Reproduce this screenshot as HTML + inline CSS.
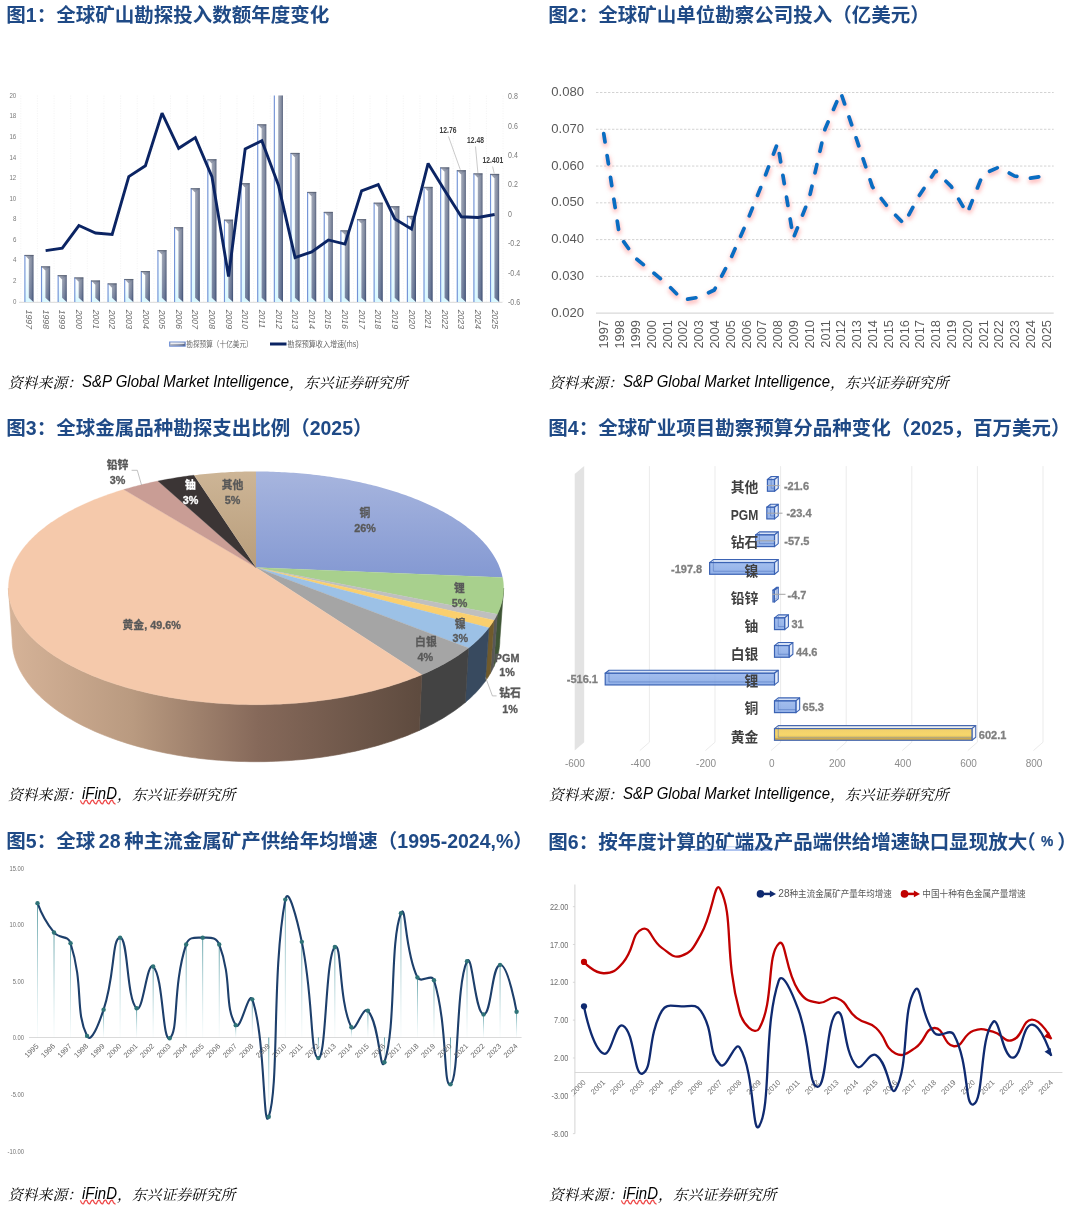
<!DOCTYPE html>
<html lang="zh-CN"><head><meta charset="utf-8"><title>charts</title>
<style>
html,body{margin:0;padding:0;background:#fff;}
body{width:1080px;height:1214px;position:relative;overflow:hidden;}
.t{position:absolute;white-space:nowrap;font-family:'Liberation Sans','Noto Sans CJK SC',sans-serif;font-weight:bold;font-size:19.5px;line-height:29px;color:#1F4A86;}
.s{position:absolute;white-space:nowrap;line-height:20px;font-size:14px;color:#000;}
.s .k{font-family:'Liberation Serif','Noto Serif CJK SC',serif;font-style:italic;font-weight:400;font-size:14.8px;}
.s .l{font-family:'Liberation Sans',sans-serif;font-style:italic;font-size:15px;display:inline-block;transform:translateY(-0.5px) scaleY(1.065);transform-origin:50% 80%;}
svg text{font-family:'Liberation Sans','Noto Sans CJK SC',sans-serif;}
</style></head><body>
<svg width="1080" height="1214" viewBox="0 0 1080 1214" style="position:absolute;left:0;top:0"><defs><linearGradient id="c1w" x1="0" y1="0" x2="0" y2="1"><stop offset="0" stop-color="#ffffff"/><stop offset="0.5" stop-color="#f2fdff"/><stop offset="1" stop-color="#d9f8ff"/></linearGradient><linearGradient id="c1g" x1="0" y1="0" x2="1" y2="0"><stop offset="0" stop-color="#b3b6bf"/><stop offset="0.55" stop-color="#8f96a8"/><stop offset="0.8" stop-color="#727c93"/><stop offset="1" stop-color="#3e4a68"/></linearGradient><linearGradient id="c1v" x1="0" y1="0" x2="0" y2="1"><stop offset="0" stop-color="#ffffff" stop-opacity="0.15"/><stop offset="1" stop-color="#2a4a8a" stop-opacity="0.25"/></linearGradient><filter id="c2glow" x="-5%" y="-5%" width="110%" height="115%"><feGaussianBlur stdDeviation="2.1"/></filter><linearGradient id="c3cu" gradientUnits="userSpaceOnUse" x1="0" y1="472" x2="0" y2="580"><stop offset="0" stop-color="#a7b5de"/><stop offset="1" stop-color="#8398d2"/></linearGradient><linearGradient id="c3ot" gradientUnits="userSpaceOnUse" x1="0" y1="472" x2="0" y2="568"><stop offset="0" stop-color="#cdb596"/><stop offset="1" stop-color="#b89d7b"/></linearGradient><linearGradient id="c3au" gradientUnits="userSpaceOnUse" x1="8" y1="0" x2="424" y2="0"><stop offset="0" stop-color="#d6b398"/><stop offset="0.3" stop-color="#b99a80"/><stop offset="0.6" stop-color="#86695a"/><stop offset="1" stop-color="#5d4a3e"/></linearGradient><linearGradient id="c4b" x1="0" y1="0" x2="0" y2="1"><stop offset="0" stop-color="#8fb0ea"/><stop offset="1" stop-color="#7a9fe2"/></linearGradient><linearGradient id="c4g" x1="0" y1="0" x2="0" y2="1"><stop offset="0" stop-color="#f1cf6b"/><stop offset="0.5" stop-color="#f6d66b"/><stop offset="0.78" stop-color="#ecc95e"/><stop offset="0.82" stop-color="#c9a74f"/><stop offset="1" stop-color="#d2ae52"/></linearGradient><linearGradient id="c5d" x1="0" y1="0" x2="0" y2="1"><stop offset="0" stop-color="#3d8a92" stop-opacity="0.9"/><stop offset="1" stop-color="#9ccfd4" stop-opacity="0.05"/></linearGradient></defs><line x1="20.8" y1="95.6" x2="20.8" y2="302" stroke="#f0f0f0" stroke-width="0.8" stroke-dasharray="1 1.5"/><line x1="37.43" y1="95.6" x2="37.43" y2="302" stroke="#f0f0f0" stroke-width="0.8" stroke-dasharray="1 1.5"/><line x1="54.06" y1="95.6" x2="54.06" y2="302" stroke="#f0f0f0" stroke-width="0.8" stroke-dasharray="1 1.5"/><line x1="70.69" y1="95.6" x2="70.69" y2="302" stroke="#f0f0f0" stroke-width="0.8" stroke-dasharray="1 1.5"/><line x1="87.32" y1="95.6" x2="87.32" y2="302" stroke="#f0f0f0" stroke-width="0.8" stroke-dasharray="1 1.5"/><line x1="103.95" y1="95.6" x2="103.95" y2="302" stroke="#f0f0f0" stroke-width="0.8" stroke-dasharray="1 1.5"/><line x1="120.58" y1="95.6" x2="120.58" y2="302" stroke="#f0f0f0" stroke-width="0.8" stroke-dasharray="1 1.5"/><line x1="137.21" y1="95.6" x2="137.21" y2="302" stroke="#f0f0f0" stroke-width="0.8" stroke-dasharray="1 1.5"/><line x1="153.84" y1="95.6" x2="153.84" y2="302" stroke="#f0f0f0" stroke-width="0.8" stroke-dasharray="1 1.5"/><line x1="170.47" y1="95.6" x2="170.47" y2="302" stroke="#f0f0f0" stroke-width="0.8" stroke-dasharray="1 1.5"/><line x1="187.1" y1="95.6" x2="187.1" y2="302" stroke="#f0f0f0" stroke-width="0.8" stroke-dasharray="1 1.5"/><line x1="203.73" y1="95.6" x2="203.73" y2="302" stroke="#f0f0f0" stroke-width="0.8" stroke-dasharray="1 1.5"/><line x1="220.36" y1="95.6" x2="220.36" y2="302" stroke="#f0f0f0" stroke-width="0.8" stroke-dasharray="1 1.5"/><line x1="236.99" y1="95.6" x2="236.99" y2="302" stroke="#f0f0f0" stroke-width="0.8" stroke-dasharray="1 1.5"/><line x1="253.62" y1="95.6" x2="253.62" y2="302" stroke="#f0f0f0" stroke-width="0.8" stroke-dasharray="1 1.5"/><line x1="270.25" y1="95.6" x2="270.25" y2="302" stroke="#f0f0f0" stroke-width="0.8" stroke-dasharray="1 1.5"/><line x1="286.88" y1="95.6" x2="286.88" y2="302" stroke="#f0f0f0" stroke-width="0.8" stroke-dasharray="1 1.5"/><line x1="303.51" y1="95.6" x2="303.51" y2="302" stroke="#f0f0f0" stroke-width="0.8" stroke-dasharray="1 1.5"/><line x1="320.14" y1="95.6" x2="320.14" y2="302" stroke="#f0f0f0" stroke-width="0.8" stroke-dasharray="1 1.5"/><line x1="336.77" y1="95.6" x2="336.77" y2="302" stroke="#f0f0f0" stroke-width="0.8" stroke-dasharray="1 1.5"/><line x1="353.4" y1="95.6" x2="353.4" y2="302" stroke="#f0f0f0" stroke-width="0.8" stroke-dasharray="1 1.5"/><line x1="370.03" y1="95.6" x2="370.03" y2="302" stroke="#f0f0f0" stroke-width="0.8" stroke-dasharray="1 1.5"/><line x1="386.66" y1="95.6" x2="386.66" y2="302" stroke="#f0f0f0" stroke-width="0.8" stroke-dasharray="1 1.5"/><line x1="403.29" y1="95.6" x2="403.29" y2="302" stroke="#f0f0f0" stroke-width="0.8" stroke-dasharray="1 1.5"/><line x1="419.92" y1="95.6" x2="419.92" y2="302" stroke="#f0f0f0" stroke-width="0.8" stroke-dasharray="1 1.5"/><line x1="436.55" y1="95.6" x2="436.55" y2="302" stroke="#f0f0f0" stroke-width="0.8" stroke-dasharray="1 1.5"/><line x1="453.18" y1="95.6" x2="453.18" y2="302" stroke="#f0f0f0" stroke-width="0.8" stroke-dasharray="1 1.5"/><line x1="469.81" y1="95.6" x2="469.81" y2="302" stroke="#f0f0f0" stroke-width="0.8" stroke-dasharray="1 1.5"/><line x1="486.44" y1="95.6" x2="486.44" y2="302" stroke="#f0f0f0" stroke-width="0.8" stroke-dasharray="1 1.5"/><line x1="503.07" y1="95.6" x2="503.07" y2="302" stroke="#f0f0f0" stroke-width="0.8" stroke-dasharray="1 1.5"/><line x1="19" y1="302.3" x2="502.5" y2="302.3" stroke="#d9d9d9" stroke-width="1"/><polygon points="24.5,255 28.82,259.2 28.82,297.8 33.5,302 24.5,302" fill="url(#c1w)"/><polygon points="24.5,255 33.5,255 33.5,302 28.82,297.8 28.82,259.2" fill="url(#c1g)"/><polygon points="28.82,259.2 33.5,255 33.5,302 28.82,297.8" fill="url(#c1v)"/><line x1="24.9" y1="255" x2="24.9" y2="302" stroke="#7393d6" stroke-width="1.15"/><line x1="24.5" y1="255.4" x2="33.5" y2="255.4" stroke="#5a6274" stroke-width="0.9"/><polygon points="41.13,266.41 45.45,270.61 45.45,297.8 50.13,302 41.13,302" fill="url(#c1w)"/><polygon points="41.13,266.41 50.13,266.41 50.13,302 45.45,297.8 45.45,270.61" fill="url(#c1g)"/><polygon points="45.45,270.61 50.13,266.41 50.13,302 45.45,297.8" fill="url(#c1v)"/><line x1="41.53" y1="266.41" x2="41.53" y2="302" stroke="#7393d6" stroke-width="1.15"/><line x1="41.13" y1="266.81" x2="50.13" y2="266.81" stroke="#5a6274" stroke-width="0.9"/><polygon points="57.76,275.26 62.08,279.46 62.08,297.8 66.76,302 57.76,302" fill="url(#c1w)"/><polygon points="57.76,275.26 66.76,275.26 66.76,302 62.08,297.8 62.08,279.46" fill="url(#c1g)"/><polygon points="62.08,279.46 66.76,275.26 66.76,302 62.08,297.8" fill="url(#c1v)"/><line x1="58.16" y1="275.26" x2="58.16" y2="302" stroke="#7393d6" stroke-width="1.15"/><line x1="57.76" y1="275.66" x2="66.76" y2="275.66" stroke="#5a6274" stroke-width="0.9"/><polygon points="74.39,277.52 78.71,281.72 78.71,297.8 83.39,302 74.39,302" fill="url(#c1w)"/><polygon points="74.39,277.52 83.39,277.52 83.39,302 78.71,297.8 78.71,281.72" fill="url(#c1g)"/><polygon points="78.71,281.72 83.39,277.52 83.39,302 78.71,297.8" fill="url(#c1v)"/><line x1="74.79" y1="277.52" x2="74.79" y2="302" stroke="#7393d6" stroke-width="1.15"/><line x1="74.39" y1="277.92" x2="83.39" y2="277.92" stroke="#5a6274" stroke-width="0.9"/><polygon points="91.02,280.61 95.34,284.81 95.34,297.8 100.02,302 91.02,302" fill="url(#c1w)"/><polygon points="91.02,280.61 100.02,280.61 100.02,302 95.34,297.8 95.34,284.81" fill="url(#c1g)"/><polygon points="95.34,284.81 100.02,280.61 100.02,302 95.34,297.8" fill="url(#c1v)"/><line x1="91.42" y1="280.61" x2="91.42" y2="302" stroke="#7393d6" stroke-width="1.15"/><line x1="91.02" y1="281.01" x2="100.02" y2="281.01" stroke="#5a6274" stroke-width="0.9"/><polygon points="107.65,283.49 111.97,287.69 111.97,297.8 116.65,302 107.65,302" fill="url(#c1w)"/><polygon points="107.65,283.49 116.65,283.49 116.65,302 111.97,297.8 111.97,287.69" fill="url(#c1g)"/><polygon points="111.97,287.69 116.65,283.49 116.65,302 111.97,297.8" fill="url(#c1v)"/><line x1="108.05" y1="283.49" x2="108.05" y2="302" stroke="#7393d6" stroke-width="1.15"/><line x1="107.65" y1="283.89" x2="116.65" y2="283.89" stroke="#5a6274" stroke-width="0.9"/><polygon points="124.28,279.06 128.6,283.26 128.6,297.8 133.28,302 124.28,302" fill="url(#c1w)"/><polygon points="124.28,279.06 133.28,279.06 133.28,302 128.6,297.8 128.6,283.26" fill="url(#c1g)"/><polygon points="128.6,283.26 133.28,279.06 133.28,302 128.6,297.8" fill="url(#c1v)"/><line x1="124.68" y1="279.06" x2="124.68" y2="302" stroke="#7393d6" stroke-width="1.15"/><line x1="124.28" y1="279.46" x2="133.28" y2="279.46" stroke="#5a6274" stroke-width="0.9"/><polygon points="140.91,271.14 145.23,275.34 145.23,297.8 149.91,302 140.91,302" fill="url(#c1w)"/><polygon points="140.91,271.14 149.91,271.14 149.91,302 145.23,297.8 145.23,275.34" fill="url(#c1g)"/><polygon points="145.23,275.34 149.91,271.14 149.91,302 145.23,297.8" fill="url(#c1v)"/><line x1="141.31" y1="271.14" x2="141.31" y2="302" stroke="#7393d6" stroke-width="1.15"/><line x1="140.91" y1="271.54" x2="149.91" y2="271.54" stroke="#5a6274" stroke-width="0.9"/><polygon points="157.54,250.27 161.86,254.47 161.86,297.8 166.54,302 157.54,302" fill="url(#c1w)"/><polygon points="157.54,250.27 166.54,250.27 166.54,302 161.86,297.8 161.86,254.47" fill="url(#c1g)"/><polygon points="161.86,254.47 166.54,250.27 166.54,302 161.86,297.8" fill="url(#c1v)"/><line x1="157.94" y1="250.27" x2="157.94" y2="302" stroke="#7393d6" stroke-width="1.15"/><line x1="157.54" y1="250.67" x2="166.54" y2="250.67" stroke="#5a6274" stroke-width="0.9"/><polygon points="174.17,227.33 178.49,231.53 178.49,297.8 183.17,302 174.17,302" fill="url(#c1w)"/><polygon points="174.17,227.33 183.17,227.33 183.17,302 178.49,297.8 178.49,231.53" fill="url(#c1g)"/><polygon points="178.49,231.53 183.17,227.33 183.17,302 178.49,297.8" fill="url(#c1v)"/><line x1="174.57" y1="227.33" x2="174.57" y2="302" stroke="#7393d6" stroke-width="1.15"/><line x1="174.17" y1="227.73" x2="183.17" y2="227.73" stroke="#5a6274" stroke-width="0.9"/><polygon points="190.8,188.35 195.12,192.55 195.12,297.8 199.8,302 190.8,302" fill="url(#c1w)"/><polygon points="190.8,188.35 199.8,188.35 199.8,302 195.12,297.8 195.12,192.55" fill="url(#c1g)"/><polygon points="195.12,192.55 199.8,188.35 199.8,302 195.12,297.8" fill="url(#c1v)"/><line x1="191.2" y1="188.35" x2="191.2" y2="302" stroke="#7393d6" stroke-width="1.15"/><line x1="190.8" y1="188.75" x2="199.8" y2="188.75" stroke="#5a6274" stroke-width="0.9"/><polygon points="207.43,159.35 211.75,163.55 211.75,297.8 216.43,302 207.43,302" fill="url(#c1w)"/><polygon points="207.43,159.35 216.43,159.35 216.43,302 211.75,297.8 211.75,163.55" fill="url(#c1g)"/><polygon points="211.75,163.55 216.43,159.35 216.43,302 211.75,297.8" fill="url(#c1v)"/><line x1="207.83" y1="159.35" x2="207.83" y2="302" stroke="#7393d6" stroke-width="1.15"/><line x1="207.43" y1="159.75" x2="216.43" y2="159.75" stroke="#5a6274" stroke-width="0.9"/><polygon points="224.06,219.72 228.38,223.92 228.38,297.8 233.06,302 224.06,302" fill="url(#c1w)"/><polygon points="224.06,219.72 233.06,219.72 233.06,302 228.38,297.8 228.38,223.92" fill="url(#c1g)"/><polygon points="228.38,223.92 233.06,219.72 233.06,302 228.38,297.8" fill="url(#c1v)"/><line x1="224.46" y1="219.72" x2="224.46" y2="302" stroke="#7393d6" stroke-width="1.15"/><line x1="224.06" y1="220.12" x2="233.06" y2="220.12" stroke="#5a6274" stroke-width="0.9"/><polygon points="240.69,183.31 245.01,187.51 245.01,297.8 249.69,302 240.69,302" fill="url(#c1w)"/><polygon points="240.69,183.31 249.69,183.31 249.69,302 245.01,297.8 245.01,187.51" fill="url(#c1g)"/><polygon points="245.01,187.51 249.69,183.31 249.69,302 245.01,297.8" fill="url(#c1v)"/><line x1="241.09" y1="183.31" x2="241.09" y2="302" stroke="#7393d6" stroke-width="1.15"/><line x1="240.69" y1="183.71" x2="249.69" y2="183.71" stroke="#5a6274" stroke-width="0.9"/><polygon points="257.32,124.38 261.64,128.58 261.64,297.8 266.32,302 257.32,302" fill="url(#c1w)"/><polygon points="257.32,124.38 266.32,124.38 266.32,302 261.64,297.8 261.64,128.58" fill="url(#c1g)"/><polygon points="261.64,128.58 266.32,124.38 266.32,302 261.64,297.8" fill="url(#c1v)"/><line x1="257.72" y1="124.38" x2="257.72" y2="302" stroke="#7393d6" stroke-width="1.15"/><line x1="257.32" y1="124.78" x2="266.32" y2="124.78" stroke="#5a6274" stroke-width="0.9"/><polygon points="273.95,95.6 278.27,95.6 278.27,297.8 282.95,302 273.95,302" fill="url(#c1w)"/><polygon points="273.95,95.6 282.95,95.6 282.95,302 278.27,297.8 278.27,95.6" fill="url(#c1g)"/><polygon points="278.27,95.6 282.95,95.6 282.95,302 278.27,297.8" fill="url(#c1v)"/><line x1="274.35" y1="95.6" x2="274.35" y2="302" stroke="#7393d6" stroke-width="1.15"/><polygon points="290.58,152.97 294.9,157.17 294.9,297.8 299.58,302 290.58,302" fill="url(#c1w)"/><polygon points="290.58,152.97 299.58,152.97 299.58,302 294.9,297.8 294.9,157.17" fill="url(#c1g)"/><polygon points="294.9,157.17 299.58,152.97 299.58,302 294.9,297.8" fill="url(#c1v)"/><line x1="290.98" y1="152.97" x2="290.98" y2="302" stroke="#7393d6" stroke-width="1.15"/><line x1="290.58" y1="153.37" x2="299.58" y2="153.37" stroke="#5a6274" stroke-width="0.9"/><polygon points="307.21,191.95 311.53,196.15 311.53,297.8 316.21,302 307.21,302" fill="url(#c1w)"/><polygon points="307.21,191.95 316.21,191.95 316.21,302 311.53,297.8 311.53,196.15" fill="url(#c1g)"/><polygon points="311.53,196.15 316.21,191.95 316.21,302 311.53,297.8" fill="url(#c1v)"/><line x1="307.61" y1="191.95" x2="307.61" y2="302" stroke="#7393d6" stroke-width="1.15"/><line x1="307.21" y1="192.35" x2="316.21" y2="192.35" stroke="#5a6274" stroke-width="0.9"/><polygon points="323.84,211.9 328.16,216.1 328.16,297.8 332.84,302 323.84,302" fill="url(#c1w)"/><polygon points="323.84,211.9 332.84,211.9 332.84,302 328.16,297.8 328.16,216.1" fill="url(#c1g)"/><polygon points="328.16,216.1 332.84,211.9 332.84,302 328.16,297.8" fill="url(#c1v)"/><line x1="324.24" y1="211.9" x2="324.24" y2="302" stroke="#7393d6" stroke-width="1.15"/><line x1="323.84" y1="212.3" x2="332.84" y2="212.3" stroke="#5a6274" stroke-width="0.9"/><polygon points="340.47,230.42 344.79,234.62 344.79,297.8 349.47,302 340.47,302" fill="url(#c1w)"/><polygon points="340.47,230.42 349.47,230.42 349.47,302 344.79,297.8 344.79,234.62" fill="url(#c1g)"/><polygon points="344.79,234.62 349.47,230.42 349.47,302 344.79,297.8" fill="url(#c1v)"/><line x1="340.87" y1="230.42" x2="340.87" y2="302" stroke="#7393d6" stroke-width="1.15"/><line x1="340.47" y1="230.82" x2="349.47" y2="230.82" stroke="#5a6274" stroke-width="0.9"/><polygon points="357.1,219.21 361.42,223.41 361.42,297.8 366.1,302 357.1,302" fill="url(#c1w)"/><polygon points="357.1,219.21 366.1,219.21 366.1,302 361.42,297.8 361.42,223.41" fill="url(#c1g)"/><polygon points="361.42,223.41 366.1,219.21 366.1,302 361.42,297.8" fill="url(#c1v)"/><line x1="357.5" y1="219.21" x2="357.5" y2="302" stroke="#7393d6" stroke-width="1.15"/><line x1="357.1" y1="219.61" x2="366.1" y2="219.61" stroke="#5a6274" stroke-width="0.9"/><polygon points="373.73,202.75 378.05,206.95 378.05,297.8 382.73,302 373.73,302" fill="url(#c1w)"/><polygon points="373.73,202.75 382.73,202.75 382.73,302 378.05,297.8 378.05,206.95" fill="url(#c1g)"/><polygon points="378.05,206.95 382.73,202.75 382.73,302 378.05,297.8" fill="url(#c1v)"/><line x1="374.13" y1="202.75" x2="374.13" y2="302" stroke="#7393d6" stroke-width="1.15"/><line x1="373.73" y1="203.15" x2="382.73" y2="203.15" stroke="#5a6274" stroke-width="0.9"/><polygon points="390.36,206.35 394.68,210.55 394.68,297.8 399.36,302 390.36,302" fill="url(#c1w)"/><polygon points="390.36,206.35 399.36,206.35 399.36,302 394.68,297.8 394.68,210.55" fill="url(#c1g)"/><polygon points="394.68,210.55 399.36,206.35 399.36,302 394.68,297.8" fill="url(#c1v)"/><line x1="390.76" y1="206.35" x2="390.76" y2="302" stroke="#7393d6" stroke-width="1.15"/><line x1="390.36" y1="206.75" x2="399.36" y2="206.75" stroke="#5a6274" stroke-width="0.9"/><polygon points="406.99,215.91 411.31,220.11 411.31,297.8 415.99,302 406.99,302" fill="url(#c1w)"/><polygon points="406.99,215.91 415.99,215.91 415.99,302 411.31,297.8 411.31,220.11" fill="url(#c1g)"/><polygon points="411.31,220.11 415.99,215.91 415.99,302 411.31,297.8" fill="url(#c1v)"/><line x1="407.39" y1="215.91" x2="407.39" y2="302" stroke="#7393d6" stroke-width="1.15"/><line x1="406.99" y1="216.31" x2="415.99" y2="216.31" stroke="#5a6274" stroke-width="0.9"/><polygon points="423.62,186.91 427.94,191.11 427.94,297.8 432.62,302 423.62,302" fill="url(#c1w)"/><polygon points="423.62,186.91 432.62,186.91 432.62,302 427.94,297.8 427.94,191.11" fill="url(#c1g)"/><polygon points="427.94,191.11 432.62,186.91 432.62,302 427.94,297.8" fill="url(#c1v)"/><line x1="424.02" y1="186.91" x2="424.02" y2="302" stroke="#7393d6" stroke-width="1.15"/><line x1="423.62" y1="187.31" x2="432.62" y2="187.31" stroke="#5a6274" stroke-width="0.9"/><polygon points="440.25,167.47 444.57,171.67 444.57,297.8 449.25,302 440.25,302" fill="url(#c1w)"/><polygon points="440.25,167.47 449.25,167.47 449.25,302 444.57,297.8 444.57,171.67" fill="url(#c1g)"/><polygon points="444.57,171.67 449.25,167.47 449.25,302 444.57,297.8" fill="url(#c1v)"/><line x1="440.65" y1="167.47" x2="440.65" y2="302" stroke="#7393d6" stroke-width="1.15"/><line x1="440.25" y1="167.87" x2="449.25" y2="167.87" stroke="#5a6274" stroke-width="0.9"/><polygon points="456.88,170.35 461.2,174.55 461.2,297.8 465.88,302 456.88,302" fill="url(#c1w)"/><polygon points="456.88,170.35 465.88,170.35 465.88,302 461.2,297.8 461.2,174.55" fill="url(#c1g)"/><polygon points="461.2,174.55 465.88,170.35 465.88,302 461.2,297.8" fill="url(#c1v)"/><line x1="457.28" y1="170.35" x2="457.28" y2="302" stroke="#7393d6" stroke-width="1.15"/><line x1="456.88" y1="170.75" x2="465.88" y2="170.75" stroke="#5a6274" stroke-width="0.9"/><polygon points="473.51,173.44 477.83,177.64 477.83,297.8 482.51,302 473.51,302" fill="url(#c1w)"/><polygon points="473.51,173.44 482.51,173.44 482.51,302 477.83,297.8 477.83,177.64" fill="url(#c1g)"/><polygon points="477.83,177.64 482.51,173.44 482.51,302 477.83,297.8" fill="url(#c1v)"/><line x1="473.91" y1="173.44" x2="473.91" y2="302" stroke="#7393d6" stroke-width="1.15"/><line x1="473.51" y1="173.84" x2="482.51" y2="173.84" stroke="#5a6274" stroke-width="0.9"/><polygon points="490.14,173.95 494.46,178.15 494.46,297.8 499.14,302 490.14,302" fill="url(#c1w)"/><polygon points="490.14,173.95 499.14,173.95 499.14,302 494.46,297.8 494.46,178.15" fill="url(#c1g)"/><polygon points="494.46,178.15 499.14,173.95 499.14,302 494.46,297.8" fill="url(#c1v)"/><line x1="490.54" y1="173.95" x2="490.54" y2="302" stroke="#7393d6" stroke-width="1.15"/><line x1="490.14" y1="174.35" x2="499.14" y2="174.35" stroke="#5a6274" stroke-width="0.9"/><polyline points="45.63,250.67 62.26,248.17 78.89,225.55 95.52,233.04 112.15,234.37 128.78,176.63 145.41,165.76 162.04,113.17 178.67,148.28 195.3,137.56 211.93,176.63 228.56,276.53 245.19,148.87 261.82,140.64 278.45,185.15 295.08,257.58 311.71,251.85 328.34,239.95 344.97,244.06 361.6,190.88 378.23,184.57 394.86,218.94 411.49,229.08 428.12,163.41 444.75,190.59 461.38,216.74 478.01,217.47 494.64,214.53" fill="none" stroke="#0b2463" stroke-width="2.9" stroke-linejoin="miter" stroke-miterlimit="1.9"/><text transform="translate(16.3,303.6) scale(0.76,1)" font-size="8.1" fill="#7a7a7a" text-anchor="end" font-family="Liberation Sans">0</text><text transform="translate(16.3,283.03) scale(0.76,1)" font-size="8.1" fill="#7a7a7a" text-anchor="end" font-family="Liberation Sans">2</text><text transform="translate(16.3,262.46) scale(0.76,1)" font-size="8.1" fill="#7a7a7a" text-anchor="end" font-family="Liberation Sans">4</text><text transform="translate(16.3,241.89) scale(0.76,1)" font-size="8.1" fill="#7a7a7a" text-anchor="end" font-family="Liberation Sans">6</text><text transform="translate(16.3,221.32) scale(0.76,1)" font-size="8.1" fill="#7a7a7a" text-anchor="end" font-family="Liberation Sans">8</text><text transform="translate(16.3,200.75) scale(0.76,1)" font-size="8.1" fill="#7a7a7a" text-anchor="end" font-family="Liberation Sans">10</text><text transform="translate(16.3,180.18) scale(0.76,1)" font-size="8.1" fill="#7a7a7a" text-anchor="end" font-family="Liberation Sans">12</text><text transform="translate(16.3,159.61) scale(0.76,1)" font-size="8.1" fill="#7a7a7a" text-anchor="end" font-family="Liberation Sans">14</text><text transform="translate(16.3,139.04) scale(0.76,1)" font-size="8.1" fill="#7a7a7a" text-anchor="end" font-family="Liberation Sans">16</text><text transform="translate(16.3,118.47) scale(0.76,1)" font-size="8.1" fill="#7a7a7a" text-anchor="end" font-family="Liberation Sans">18</text><text transform="translate(16.3,97.9) scale(0.76,1)" font-size="8.1" fill="#7a7a7a" text-anchor="end" font-family="Liberation Sans">20</text><text transform="translate(508,99.28) scale(0.84,1)" font-size="8.4" fill="#7a7a7a" font-family="Liberation Sans">0.8</text><text transform="translate(508,128.66) scale(0.84,1)" font-size="8.4" fill="#7a7a7a" font-family="Liberation Sans">0.6</text><text transform="translate(508,158.04) scale(0.84,1)" font-size="8.4" fill="#7a7a7a" font-family="Liberation Sans">0.4</text><text transform="translate(508,187.42) scale(0.84,1)" font-size="8.4" fill="#7a7a7a" font-family="Liberation Sans">0.2</text><text transform="translate(508,216.8) scale(0.84,1)" font-size="8.4" fill="#7a7a7a" font-family="Liberation Sans">0</text><text transform="translate(508,246.18) scale(0.84,1)" font-size="8.4" fill="#7a7a7a" font-family="Liberation Sans">-0.2</text><text transform="translate(508,275.56) scale(0.84,1)" font-size="8.4" fill="#7a7a7a" font-family="Liberation Sans">-0.4</text><text transform="translate(508,304.94) scale(0.84,1)" font-size="8.4" fill="#7a7a7a" font-family="Liberation Sans">-0.6</text><text transform="translate(26.1,309.3) rotate(90) skewX(-12)" font-size="8.6" fill="#6a6a6a" font-family="Liberation Sans">1997</text><text transform="translate(42.73,309.3) rotate(90) skewX(-12)" font-size="8.6" fill="#6a6a6a" font-family="Liberation Sans">1998</text><text transform="translate(59.36,309.3) rotate(90) skewX(-12)" font-size="8.6" fill="#6a6a6a" font-family="Liberation Sans">1999</text><text transform="translate(75.99,309.3) rotate(90) skewX(-12)" font-size="8.6" fill="#6a6a6a" font-family="Liberation Sans">2000</text><text transform="translate(92.62,309.3) rotate(90) skewX(-12)" font-size="8.6" fill="#6a6a6a" font-family="Liberation Sans">2001</text><text transform="translate(109.25,309.3) rotate(90) skewX(-12)" font-size="8.6" fill="#6a6a6a" font-family="Liberation Sans">2002</text><text transform="translate(125.88,309.3) rotate(90) skewX(-12)" font-size="8.6" fill="#6a6a6a" font-family="Liberation Sans">2003</text><text transform="translate(142.51,309.3) rotate(90) skewX(-12)" font-size="8.6" fill="#6a6a6a" font-family="Liberation Sans">2004</text><text transform="translate(159.14,309.3) rotate(90) skewX(-12)" font-size="8.6" fill="#6a6a6a" font-family="Liberation Sans">2005</text><text transform="translate(175.77,309.3) rotate(90) skewX(-12)" font-size="8.6" fill="#6a6a6a" font-family="Liberation Sans">2006</text><text transform="translate(192.4,309.3) rotate(90) skewX(-12)" font-size="8.6" fill="#6a6a6a" font-family="Liberation Sans">2007</text><text transform="translate(209.03,309.3) rotate(90) skewX(-12)" font-size="8.6" fill="#6a6a6a" font-family="Liberation Sans">2008</text><text transform="translate(225.66,309.3) rotate(90) skewX(-12)" font-size="8.6" fill="#6a6a6a" font-family="Liberation Sans">2009</text><text transform="translate(242.29,309.3) rotate(90) skewX(-12)" font-size="8.6" fill="#6a6a6a" font-family="Liberation Sans">2010</text><text transform="translate(258.92,309.3) rotate(90) skewX(-12)" font-size="8.6" fill="#6a6a6a" font-family="Liberation Sans">2011</text><text transform="translate(275.55,309.3) rotate(90) skewX(-12)" font-size="8.6" fill="#6a6a6a" font-family="Liberation Sans">2012</text><text transform="translate(292.18,309.3) rotate(90) skewX(-12)" font-size="8.6" fill="#6a6a6a" font-family="Liberation Sans">2013</text><text transform="translate(308.81,309.3) rotate(90) skewX(-12)" font-size="8.6" fill="#6a6a6a" font-family="Liberation Sans">2014</text><text transform="translate(325.44,309.3) rotate(90) skewX(-12)" font-size="8.6" fill="#6a6a6a" font-family="Liberation Sans">2015</text><text transform="translate(342.07,309.3) rotate(90) skewX(-12)" font-size="8.6" fill="#6a6a6a" font-family="Liberation Sans">2016</text><text transform="translate(358.7,309.3) rotate(90) skewX(-12)" font-size="8.6" fill="#6a6a6a" font-family="Liberation Sans">2017</text><text transform="translate(375.33,309.3) rotate(90) skewX(-12)" font-size="8.6" fill="#6a6a6a" font-family="Liberation Sans">2018</text><text transform="translate(391.96,309.3) rotate(90) skewX(-12)" font-size="8.6" fill="#6a6a6a" font-family="Liberation Sans">2019</text><text transform="translate(408.59,309.3) rotate(90) skewX(-12)" font-size="8.6" fill="#6a6a6a" font-family="Liberation Sans">2020</text><text transform="translate(425.22,309.3) rotate(90) skewX(-12)" font-size="8.6" fill="#6a6a6a" font-family="Liberation Sans">2021</text><text transform="translate(441.85,309.3) rotate(90) skewX(-12)" font-size="8.6" fill="#6a6a6a" font-family="Liberation Sans">2022</text><text transform="translate(458.48,309.3) rotate(90) skewX(-12)" font-size="8.6" fill="#6a6a6a" font-family="Liberation Sans">2023</text><text transform="translate(475.11,309.3) rotate(90) skewX(-12)" font-size="8.6" fill="#6a6a6a" font-family="Liberation Sans">2024</text><text transform="translate(491.74,309.3) rotate(90) skewX(-12)" font-size="8.6" fill="#6a6a6a" font-family="Liberation Sans">2025</text><line x1="448.5" y1="136.5" x2="460.3" y2="169.7" stroke="#a6a6a6" stroke-width="0.6"/><text transform="translate(448,133.4) scale(0.75,1)" font-size="9" font-weight="bold" fill="#404040" text-anchor="middle" font-family="Liberation Sans">12.76</text><line x1="475.5" y1="146.5" x2="477.9" y2="173" stroke="#a6a6a6" stroke-width="0.6"/><text transform="translate(475.5,142.70000000000002) scale(0.75,1)" font-size="9" font-weight="bold" fill="#404040" text-anchor="middle" font-family="Liberation Sans">12.48</text><line x1="492.6" y1="166.5" x2="494.2" y2="173.5" stroke="#a6a6a6" stroke-width="0.6"/><text transform="translate(492.9,163.4) scale(0.75,1)" font-size="9" font-weight="bold" fill="#404040" text-anchor="middle" font-family="Liberation Sans">12.401</text><rect x="169.6" y="342" width="15.6" height="4.2" fill="url(#c1g)" stroke="#6f8fd6" stroke-width="1"/><rect x="170.5" y="342.5" width="14" height="1.6" fill="#fff" opacity="0.8"/><text x="186.3" y="347.3" font-size="8.2" fill="#6a6a6a" textLength="66.4" lengthAdjust="spacingAndGlyphs">勘探预算（十亿美元）</text><line x1="270" y1="344" x2="286.5" y2="344" stroke="#0b2463" stroke-width="3"/><text x="287.6" y="347.3" font-size="8.2" fill="#6a6a6a" textLength="71" lengthAdjust="spacingAndGlyphs">勘探预算收入增速(rhs)</text><line x1="596" y1="92.5" x2="1053.7" y2="92.5" stroke="#d3d3d3" stroke-width="1" stroke-dasharray="2.4 1.6"/><line x1="596" y1="129.28" x2="1053.7" y2="129.28" stroke="#d3d3d3" stroke-width="1" stroke-dasharray="2.4 1.6"/><line x1="596" y1="166.06" x2="1053.7" y2="166.06" stroke="#d3d3d3" stroke-width="1" stroke-dasharray="2.4 1.6"/><line x1="596" y1="202.84" x2="1053.7" y2="202.84" stroke="#d3d3d3" stroke-width="1" stroke-dasharray="2.4 1.6"/><line x1="596" y1="239.62" x2="1053.7" y2="239.62" stroke="#d3d3d3" stroke-width="1" stroke-dasharray="2.4 1.6"/><line x1="596" y1="276.4" x2="1053.7" y2="276.4" stroke="#d3d3d3" stroke-width="1" stroke-dasharray="2.4 1.6"/><line x1="596" y1="313.2" x2="1053.7" y2="313.2" stroke="#d9d9d9" stroke-width="1.3"/><text x="584" y="96" font-size="13.1" fill="#595959" text-anchor="end" font-family="Liberation Sans">0.080</text><text x="584" y="132.78" font-size="13.1" fill="#595959" text-anchor="end" font-family="Liberation Sans">0.070</text><text x="584" y="169.56" font-size="13.1" fill="#595959" text-anchor="end" font-family="Liberation Sans">0.060</text><text x="584" y="206.34" font-size="13.1" fill="#595959" text-anchor="end" font-family="Liberation Sans">0.050</text><text x="584" y="243.12" font-size="13.1" fill="#595959" text-anchor="end" font-family="Liberation Sans">0.040</text><text x="584" y="279.9" font-size="13.1" fill="#595959" text-anchor="end" font-family="Liberation Sans">0.030</text><text x="584" y="316.68" font-size="13.1" fill="#595959" text-anchor="end" font-family="Liberation Sans">0.020</text><text transform="translate(608.35,320.1) rotate(-90)" font-size="12.8" fill="#595959" text-anchor="end" font-family="Liberation Sans">1997</text><text transform="translate(624.15,320.1) rotate(-90)" font-size="12.8" fill="#595959" text-anchor="end" font-family="Liberation Sans">1998</text><text transform="translate(639.95,320.1) rotate(-90)" font-size="12.8" fill="#595959" text-anchor="end" font-family="Liberation Sans">1999</text><text transform="translate(655.75,320.1) rotate(-90)" font-size="12.8" fill="#595959" text-anchor="end" font-family="Liberation Sans">2000</text><text transform="translate(671.55,320.1) rotate(-90)" font-size="12.8" fill="#595959" text-anchor="end" font-family="Liberation Sans">2001</text><text transform="translate(687.35,320.1) rotate(-90)" font-size="12.8" fill="#595959" text-anchor="end" font-family="Liberation Sans">2002</text><text transform="translate(703.15,320.1) rotate(-90)" font-size="12.8" fill="#595959" text-anchor="end" font-family="Liberation Sans">2003</text><text transform="translate(718.95,320.1) rotate(-90)" font-size="12.8" fill="#595959" text-anchor="end" font-family="Liberation Sans">2004</text><text transform="translate(734.75,320.1) rotate(-90)" font-size="12.8" fill="#595959" text-anchor="end" font-family="Liberation Sans">2005</text><text transform="translate(750.55,320.1) rotate(-90)" font-size="12.8" fill="#595959" text-anchor="end" font-family="Liberation Sans">2006</text><text transform="translate(766.35,320.1) rotate(-90)" font-size="12.8" fill="#595959" text-anchor="end" font-family="Liberation Sans">2007</text><text transform="translate(782.15,320.1) rotate(-90)" font-size="12.8" fill="#595959" text-anchor="end" font-family="Liberation Sans">2008</text><text transform="translate(797.95,320.1) rotate(-90)" font-size="12.8" fill="#595959" text-anchor="end" font-family="Liberation Sans">2009</text><text transform="translate(813.75,320.1) rotate(-90)" font-size="12.8" fill="#595959" text-anchor="end" font-family="Liberation Sans">2010</text><text transform="translate(829.55,320.1) rotate(-90)" font-size="12.8" fill="#595959" text-anchor="end" font-family="Liberation Sans">2011</text><text transform="translate(845.35,320.1) rotate(-90)" font-size="12.8" fill="#595959" text-anchor="end" font-family="Liberation Sans">2012</text><text transform="translate(861.15,320.1) rotate(-90)" font-size="12.8" fill="#595959" text-anchor="end" font-family="Liberation Sans">2013</text><text transform="translate(876.95,320.1) rotate(-90)" font-size="12.8" fill="#595959" text-anchor="end" font-family="Liberation Sans">2014</text><text transform="translate(892.75,320.1) rotate(-90)" font-size="12.8" fill="#595959" text-anchor="end" font-family="Liberation Sans">2015</text><text transform="translate(908.55,320.1) rotate(-90)" font-size="12.8" fill="#595959" text-anchor="end" font-family="Liberation Sans">2016</text><text transform="translate(924.35,320.1) rotate(-90)" font-size="12.8" fill="#595959" text-anchor="end" font-family="Liberation Sans">2017</text><text transform="translate(940.15,320.1) rotate(-90)" font-size="12.8" fill="#595959" text-anchor="end" font-family="Liberation Sans">2018</text><text transform="translate(955.95,320.1) rotate(-90)" font-size="12.8" fill="#595959" text-anchor="end" font-family="Liberation Sans">2019</text><text transform="translate(971.75,320.1) rotate(-90)" font-size="12.8" fill="#595959" text-anchor="end" font-family="Liberation Sans">2020</text><text transform="translate(987.55,320.1) rotate(-90)" font-size="12.8" fill="#595959" text-anchor="end" font-family="Liberation Sans">2021</text><text transform="translate(1003.35,320.1) rotate(-90)" font-size="12.8" fill="#595959" text-anchor="end" font-family="Liberation Sans">2022</text><text transform="translate(1019.15,320.1) rotate(-90)" font-size="12.8" fill="#595959" text-anchor="end" font-family="Liberation Sans">2023</text><text transform="translate(1034.95,320.1) rotate(-90)" font-size="12.8" fill="#595959" text-anchor="end" font-family="Liberation Sans">2024</text><text transform="translate(1050.75,320.1) rotate(-90)" font-size="12.8" fill="#595959" text-anchor="end" font-family="Liberation Sans">2025</text><path d="M603.75,133.69 L619.55,235.94 L635.35,258.01 L651.15,270.88 L666.95,284.12 L682.75,299.94 L698.55,297.36 L714.35,290.01 L730.15,259.85 L745.95,224.17 L761.75,184.82 L777.55,143.26 L793.35,238.15 L809.15,198.43 L824.95,129.28 L840.75,92.5 L856.55,139.21 L872.35,186.66 L888.15,207.62 L903.95,223.8 L919.75,194.75 L935.55,170.84 L951.35,186.66 L967.15,213.51 L982.95,174.15 L998.75,167.16 L1014.55,175.99 L1030.35,178.2 L1046.15,175.62" fill="none" stroke="#ff8c8c" stroke-opacity="0.6" stroke-width="5" stroke-dasharray="8.4 13.7" stroke-linecap="round" stroke-linejoin="round" filter="url(#c2glow)" transform="translate(0.3,2.6)"/><path d="M603.75,133.69 L619.55,235.94 L635.35,258.01 L651.15,270.88 L666.95,284.12 L682.75,299.94 L698.55,297.36 L714.35,290.01 L730.15,259.85 L745.95,224.17 L761.75,184.82 L777.55,143.26 L793.35,238.15 L809.15,198.43 L824.95,129.28 L840.75,92.5 L856.55,139.21 L872.35,186.66 L888.15,207.62 L903.95,223.8 L919.75,194.75 L935.55,170.84 L951.35,186.66 L967.15,213.51 L982.95,174.15 L998.75,167.16 L1014.55,175.99 L1030.35,178.2 L1046.15,175.62" fill="none" stroke="#0a6dc2" stroke-width="3.7" stroke-dasharray="8.4 13.7" stroke-linecap="round" stroke-linejoin="round"/><polygon points="503.6,588.15 503.56,590.14 503.45,592.13 503.27,594.13 503.01,596.13 502.68,598.14 502.27,600.15 501.79,602.16 501.23,604.17 500.6,606.19 499.89,608.2 499.1,610.22 498.24,612.23 497.3,614.24 493.68,666.94 494.6,664.82 495.46,662.7 496.23,660.57 496.93,658.45 497.56,656.32 498.1,654.2 498.58,652.07 498.98,649.95 499.3,647.83 499.56,645.71 499.74,643.6 499.84,641.49 499.88,639.39" fill="#3f5535" stroke="#3f5535" stroke-width="0.6" stroke-linejoin="round"/><polygon points="497.3,614.24 496.27,616.25 495.17,618.26 493.99,620.26 490.42,673.28 491.59,671.17 492.67,669.06 493.68,666.94" fill="#585858" stroke="#585858" stroke-width="0.6" stroke-linejoin="round"/><polygon points="493.99,620.26 492.82,622.14 491.57,624.01 490.25,625.87 488.86,627.73 485.37,681.14 486.74,679.18 488.04,677.22 489.26,675.26 490.42,673.28" fill="#6f5a2c" stroke="#6f5a2c" stroke-width="0.6" stroke-linejoin="round"/><polygon points="488.86,627.73 487.38,629.61 485.82,631.49 484.19,633.36 482.48,635.22 480.7,637.08 478.85,638.92 476.93,640.75 474.93,642.57 472.86,644.38 470.71,646.17 468.5,647.95 465.31,702.38 467.49,700.51 469.6,698.63 471.64,696.73 473.61,694.82 475.51,692.9 477.33,690.96 479.08,689.02 480.76,687.06 482.37,685.1 483.91,683.12 485.37,681.14" fill="#384a5f" stroke="#384a5f" stroke-width="0.6" stroke-linejoin="round"/><polygon points="468.5,647.95 466.14,649.77 463.7,651.58 461.19,653.37 458.6,655.14 455.93,656.89 453.19,658.62 450.38,660.33 447.49,662.03 444.53,663.69 441.49,665.34 438.39,666.96 435.21,668.56 431.97,670.14 428.65,671.69 425.27,673.21 421.81,674.7 419.33,730.39 422.73,728.83 426.06,727.24 429.33,725.62 432.52,723.97 435.65,722.3 438.71,720.6 441.7,718.88 444.62,717.13 447.46,715.36 450.23,713.56 452.93,711.75 455.56,709.91 458.11,708.06 460.58,706.18 462.99,704.29 465.31,702.38" fill="#434343" stroke="#434343" stroke-width="0.6" stroke-linejoin="round"/><polygon points="421.81,674.7 418.11,676.25 414.33,677.76 410.47,679.23 406.55,680.68 402.56,682.09 398.51,683.46 394.39,684.8 390.2,686.1 385.95,687.36 381.64,688.58 377.28,689.77 372.85,690.91 368.37,692.01 363.84,693.07 359.26,694.09 354.62,695.06 349.94,695.99 345.22,696.88 340.45,697.72 335.64,698.52 330.79,699.27 325.91,699.97 320.99,700.62 316.04,701.23 311.06,701.79 306.05,702.31 301.02,702.77 295.97,703.18 290.89,703.55 285.8,703.86 280.7,704.13 275.58,704.35 270.45,704.51 265.32,704.63 260.18,704.7 255.04,704.71 249.9,704.68 244.76,704.59 239.63,704.46 234.5,704.27 229.39,704.04 224.29,703.75 219.21,703.42 214.14,703.03 209.09,702.6 204.07,702.12 199.07,701.59 194.11,701.01 189.17,700.38 184.26,699.71 179.39,698.99 174.56,698.22 169.76,697.41 165.01,696.55 160.3,695.65 155.64,694.7 151.02,693.71 146.46,692.68 141.94,691.6 137.48,690.49 133.08,689.33 128.74,688.13 124.45,686.89 120.23,685.62 116.06,684.3 111.97,682.95 107.93,681.56 103.97,680.14 100.08,678.69 96.25,677.19 92.5,675.67 88.82,674.12 85.21,672.53 81.68,670.92 78.23,669.27 74.85,667.6 71.55,665.9 68.34,664.17 65.2,662.42 62.14,660.64 59.16,658.84 56.27,657.02 53.46,655.18 50.73,653.31 48.09,651.43 45.53,649.52 43.06,647.6 40.67,645.67 38.37,643.71 36.15,641.74 34.02,639.76 31.98,637.77 30.02,635.76 28.15,633.74 26.37,631.71 24.67,629.67 23.06,627.62 21.53,625.57 20.09,623.5 18.73,621.44 17.46,619.36 16.28,617.28 15.18,615.2 14.17,613.12 13.24,611.03 12.39,608.94 11.62,606.85 10.94,604.76 10.34,602.68 9.83,600.59 9.39,598.51 9.04,596.43 8.76,594.35 8.56,592.28 8.44,590.21 8.4,588.15 12.12,639.39 12.16,641.57 12.27,643.76 12.47,645.95 12.74,648.14 13.09,650.34 13.52,652.54 14.03,654.74 14.62,656.95 15.29,659.15 16.04,661.35 16.88,663.55 17.79,665.75 18.79,667.95 19.88,670.14 21.04,672.33 22.29,674.52 23.63,676.69 25.05,678.87 26.55,681.03 28.14,683.18 29.81,685.32 31.57,687.46 33.41,689.58 35.34,691.69 37.35,693.78 39.45,695.87 41.64,697.93 43.9,699.98 46.25,702.01 48.69,704.03 51.21,706.02 53.81,708 56.5,709.95 59.27,711.89 62.12,713.79 65.05,715.68 68.06,717.54 71.15,719.37 74.32,721.18 77.57,722.96 80.9,724.71 84.3,726.43 87.77,728.12 91.33,729.78 94.95,731.4 98.65,733 102.41,734.55 106.25,736.08 110.16,737.56 114.13,739.01 118.16,740.42 122.26,741.79 126.42,743.13 130.64,744.42 134.92,745.67 139.26,746.88 143.65,748.04 148.1,749.17 152.6,750.24 157.14,751.28 161.73,752.26 166.37,753.21 171.05,754.1 175.78,754.95 180.54,755.75 185.34,756.5 190.17,757.2 195.03,757.85 199.93,758.46 204.85,759.01 209.8,759.51 214.77,759.96 219.76,760.36 224.77,760.71 229.79,761.01 234.83,761.25 239.87,761.45 244.93,761.59 249.99,761.68 255.05,761.71 260.12,761.7 265.18,761.63 270.24,761.51 275.29,761.33 280.33,761.11 285.36,760.83 290.37,760.5 295.37,760.12 300.34,759.69 305.3,759.2 310.23,758.67 315.14,758.09 320.01,757.45 324.86,756.77 329.67,756.04 334.45,755.25 339.18,754.42 343.88,753.55 348.53,752.62 353.14,751.65 357.71,750.64 362.22,749.57 366.69,748.47 371.1,747.32 375.46,746.13 379.76,744.89 384,743.61 388.19,742.3 392.31,740.94 396.37,739.54 400.37,738.11 404.3,736.64 408.16,735.13 411.95,733.58 415.67,732 419.33,730.39" fill="url(#c3au)" stroke="url(#c3au)" stroke-width="0.6" stroke-linejoin="round"/><polygon points="256,567.5 256,471.5 258.89,471.5 261.77,471.53 264.66,471.57 267.54,471.62 270.43,471.69 273.31,471.78 276.19,471.88 279.07,472 281.94,472.14 284.82,472.29 287.69,472.46 290.55,472.64 293.42,472.84 296.27,473.05 299.13,473.28 301.98,473.52 304.82,473.79 307.66,474.06 310.5,474.36 313.32,474.66 316.15,474.99 318.96,475.33 321.77,475.69 324.57,476.06 327.36,476.45 330.15,476.85 332.93,477.27 335.7,477.7 338.46,478.15 341.21,478.62 343.95,479.1 346.68,479.6 349.4,480.11 352.11,480.64 354.81,481.18 357.5,481.74 360.18,482.32 362.84,482.91 365.49,483.52 368.13,484.14 370.76,484.78 373.38,485.43 375.98,486.1 378.56,486.79 381.13,487.48 383.69,488.2 386.23,488.93 388.76,489.68 391.27,490.44 393.76,491.21 396.24,492 398.7,492.81 401.14,493.63 403.57,494.47 405.98,495.32 408.36,496.19 410.73,497.07 413.08,497.97 415.41,498.88 417.72,499.81 420.01,500.75 422.28,501.71 424.53,502.68 426.75,503.66 428.96,504.66 431.14,505.68 433.29,506.71 435.43,507.75 437.54,508.81 439.62,509.88 441.69,510.97 443.72,512.07 445.73,513.18 447.72,514.31 449.67,515.46 451.6,516.61 453.51,517.78 455.38,518.97 457.23,520.16 459.05,521.37 460.84,522.6 462.6,523.84 464.32,525.09 466.02,526.35 467.69,527.63 469.33,528.91 470.93,530.22 472.5,531.53 474.04,532.86 475.55,534.19 477.02,535.55 478.46,536.91 479.86,538.28 481.23,539.67 482.56,541.07 483.85,542.48 485.11,543.9 486.33,545.33 487.52,546.77 488.66,548.22 489.77,549.69 490.84,551.16 491.87,552.64 492.86,554.14 493.81,555.64 494.71,557.15 495.58,558.67 496.4,560.21 497.19,561.75 497.93,563.29 498.62,564.85 499.28,566.42 499.88,567.99 500.45,569.57 500.97,571.16 501.44,572.75 501.87,574.36 502.25,575.97 502.59,577.58" fill="url(#c3cu)" stroke="none" stroke-width="0.3"/><polygon points="256,567.5 502.59,577.58 502.86,579.14 503.1,580.7 503.29,582.27 503.43,583.84 503.53,585.42 503.58,587 503.59,588.58 503.56,590.17 503.47,591.76 503.34,593.36 503.17,594.96 502.94,596.56 502.67,598.16 502.35,599.77 501.99,601.37 501.57,602.98 501.11,604.59 500.6,606.2 500.04,607.81 499.43,609.42 498.76,611.03 498.06,612.64 497.3,614.24" fill="#a8d08d" stroke="#a8d08d" stroke-width="0.3"/><polygon points="256,567.5 497.3,614.24 496.54,615.75 495.73,617.26 494.89,618.76 493.99,620.26" fill="#bfbfbf" stroke="#bfbfbf" stroke-width="0.3"/><polygon points="256,567.5 493.99,620.26 493.06,621.76 492.08,623.26 491.05,624.75 489.98,626.24 488.86,627.73" fill="#facf6e" stroke="#facf6e" stroke-width="0.3"/><polygon points="256,567.5 488.86,627.73 487.61,629.32 486.31,630.92 484.95,632.5 483.54,634.08 482.08,635.65 480.56,637.22 479,638.78 477.38,640.33 475.71,641.87 473.98,643.41 472.21,644.93 470.38,646.45 468.5,647.95" fill="#9cc1e6" stroke="#9cc1e6" stroke-width="0.3"/><polygon points="256,567.5 468.5,647.95 466.52,649.49 464.48,651.01 462.39,652.52 460.24,654.02 458.04,655.51 455.79,656.98 453.48,658.44 451.13,659.89 448.71,661.32 446.25,662.73 443.74,664.13 441.17,665.51 438.55,666.88 435.89,668.23 433.17,669.56 430.4,670.87 427.59,672.17 424.72,673.45 421.81,674.7" fill="#a5a5a5" stroke="#a5a5a5" stroke-width="0.3"/><polygon points="256,567.5 421.81,674.7 418.84,675.94 415.82,677.17 412.76,678.37 409.64,679.55 406.49,680.7 403.29,681.84 400.04,682.95 396.76,684.04 393.43,685.1 390.06,686.14 386.65,687.16 383.2,688.15 379.72,689.11 376.19,690.05 372.63,690.97 369.03,691.85 365.4,692.71 361.74,693.54 358.04,694.35 354.31,695.13 350.55,695.87 346.77,696.59 342.95,697.29 339.11,697.95 335.24,698.58 331.34,699.18 327.42,699.76 323.48,700.3 319.52,700.81 315.54,701.29 311.54,701.74 307.52,702.16 303.49,702.55 299.44,702.9 295.37,703.23 291.3,703.52 287.21,703.78 283.11,704.01 279.01,704.21 274.9,704.37 270.78,704.5 266.65,704.6 262.53,704.67 258.4,704.71 254.27,704.71 250.14,704.68 246.01,704.62 241.88,704.52 237.76,704.4 233.65,704.24 229.54,704.05 225.44,703.82 221.36,703.57 217.28,703.28 213.21,702.96 209.16,702.61 205.12,702.22 201.1,701.81 197.1,701.37 193.11,700.89 189.15,700.38 185.21,699.84 181.28,699.28 177.39,698.68 173.51,698.05 169.66,697.39 165.84,696.71 162.05,695.99 158.29,695.25 154.55,694.48 150.85,693.68 147.18,692.85 143.55,691.99 139.94,691.11 136.38,690.2 132.85,689.26 129.35,688.3 125.9,687.32 122.48,686.31 119.11,685.27 115.77,684.21 112.48,683.12 109.23,682.02 106.02,680.89 102.86,679.73 99.74,678.56 96.67,677.36 93.64,676.14 90.66,674.9 87.73,673.64 84.84,672.36 82.01,671.07 79.22,669.75 76.48,668.41 73.8,667.06 71.16,665.69 68.58,664.3 66.05,662.9 63.57,661.48 61.14,660.04 58.76,658.59 56.44,657.13 54.17,655.65 51.96,654.16 49.8,652.65 47.69,651.14 45.64,649.61 43.65,648.07 41.7,646.51 39.82,644.95 37.99,643.38 36.21,641.8 34.49,640.2 32.83,638.6 31.22,637 29.67,635.38 28.17,633.76 26.73,632.13 25.34,630.49 24.01,628.85 22.74,627.2 21.52,625.55 20.35,623.9 19.25,622.23 18.19,620.57 17.2,618.9 16.25,617.23 15.37,615.56 14.53,613.89 13.75,612.21 13.03,610.53 12.36,608.86 11.74,607.18 11.17,605.5 10.66,603.82 10.21,602.15 9.8,600.47 9.45,598.8 9.15,597.13 8.9,595.46 8.7,593.79 8.55,592.13 8.45,590.47 8.41,588.81 8.41,587.16 8.47,585.51 8.57,583.86 8.72,582.22 8.92,580.59 9.17,578.96 9.46,577.34 9.8,575.72 10.19,574.12 10.63,572.51 11.11,570.92 11.64,569.33 12.21,567.75 12.82,566.17 13.48,564.61 14.19,563.05 14.93,561.5 15.72,559.96 16.56,558.43 17.43,556.91 18.35,555.39 19.3,553.89 20.3,552.4 21.33,550.91 22.41,549.44 23.53,547.98 24.68,546.53 25.87,545.08 27.1,543.65 28.37,542.23 29.67,540.82 31.01,539.43 32.38,538.04 33.79,536.67 35.24,535.31 36.72,533.96 38.23,532.62 39.78,531.29 41.36,529.98 42.97,528.68 44.61,527.39 46.29,526.12 47.99,524.85 49.73,523.61 51.5,522.37 53.29,521.15 55.12,519.94 56.97,518.74 58.85,517.56 60.76,516.39 62.7,515.24 64.67,514.09 66.66,512.97 68.68,511.85 70.72,510.75 72.79,509.67 74.88,508.6 77,507.54 79.14,506.5 81.3,505.47 83.49,504.46 85.7,503.46 87.93,502.48 90.18,501.51 92.46,500.55 94.75,499.61 97.07,498.69 99.41,497.78 101.76,496.88 104.14,496.01 106.54,495.14 108.95,494.29 111.38,493.46 113.83,492.64 116.3,491.83 118.78,491.04 121.28,490.27 123.8,489.51" fill="#f5c9ab" stroke="#f5c9ab" stroke-width="0.3"/><polygon points="256,567.5 123.8,489.51 126.16,488.82 128.53,488.14 130.92,487.47 133.32,486.82 135.74,486.18 138.16,485.55 140.6,484.94 143.05,484.34 145.51,483.75 147.98,483.18 150.46,482.62 152.96,482.07 155.46,481.54 157.98,481.02" fill="#c99d95" stroke="#c99d95" stroke-width="0.3"/><polygon points="256,567.5 157.98,481.02 160.5,480.52 163.03,480.03 165.57,479.55 168.12,479.09 170.68,478.64 173.25,478.2 175.83,477.78 178.41,477.37 181,476.97 183.6,476.59 186.21,476.23 188.82,475.87 191.44,475.53 194.06,475.2" fill="#3b3535" stroke="#3b3535" stroke-width="0.3"/><polygon points="256,567.5 194.06,475.2 196.83,474.88 199.61,474.56 202.39,474.26 205.18,473.98 207.98,473.71 210.77,473.46 213.58,473.22 216.39,473 219.2,472.79 222.01,472.6 224.83,472.42 227.66,472.26 230.48,472.12 233.31,471.99 236.14,471.87 238.98,471.77 241.81,471.69 244.65,471.62 247.48,471.57 250.32,471.53 253.16,471.5 256,471.5" fill="url(#c3ot)" stroke="none" stroke-width="0.3"/><text x="117.6" y="469" font-size="10.8" font-weight="bold" fill="#595959" stroke="#595959" stroke-width="0.3" text-anchor="middle">铅锌</text><text x="117.6" y="484" font-size="10.8" font-weight="bold" fill="#595959" stroke="#595959" stroke-width="0.3" text-anchor="middle">3%</text><polyline points="131.6,470.3 137.3,470.3 141.5,485" fill="none" stroke="#a6a6a6" stroke-width="0.7"/><text x="190.5" y="489.2" font-size="10.8" font-weight="bold" fill="#ffffff" stroke="#ffffff" stroke-width="0.3" text-anchor="middle">铀</text><text x="190.5" y="504" font-size="10.8" font-weight="bold" fill="#ffffff" stroke="#ffffff" stroke-width="0.3" text-anchor="middle">3%</text><text x="232.5" y="489" font-size="10.8" font-weight="bold" fill="#595959" stroke="#595959" stroke-width="0.3" text-anchor="middle">其他</text><text x="232.5" y="504" font-size="10.8" font-weight="bold" fill="#595959" stroke="#595959" stroke-width="0.3" text-anchor="middle">5%</text><text x="365" y="516.8" font-size="10.8" font-weight="bold" fill="#595959" stroke="#595959" stroke-width="0.3" text-anchor="middle">铜</text><text x="365" y="532" font-size="10.8" font-weight="bold" fill="#595959" stroke="#595959" stroke-width="0.3" text-anchor="middle">26%</text><text x="459.5" y="592" font-size="10.8" font-weight="bold" fill="#595959" stroke="#595959" stroke-width="0.3" text-anchor="middle">锂</text><text x="459.5" y="607.4" font-size="10.8" font-weight="bold" fill="#595959" stroke="#595959" stroke-width="0.3" text-anchor="middle">5%</text><text x="460.2" y="627.7" font-size="10.8" font-weight="bold" fill="#595959" stroke="#595959" stroke-width="0.3" text-anchor="middle">镍</text><text x="460.2" y="642.4" font-size="10.8" font-weight="bold" fill="#595959" stroke="#595959" stroke-width="0.3" text-anchor="middle">3%</text><text x="425.9" y="646" font-size="10.8" font-weight="bold" fill="#595959" stroke="#595959" stroke-width="0.3" text-anchor="middle">白银</text><text x="425.2" y="660.6" font-size="10.8" font-weight="bold" fill="#595959" stroke="#595959" stroke-width="0.3" text-anchor="middle">4%</text><text x="507.1" y="662" font-size="10.8" font-weight="bold" fill="#595959" stroke="#595959" stroke-width="0.3" text-anchor="middle">PGM</text><text x="507.1" y="676" font-size="10.8" font-weight="bold" fill="#595959" stroke="#595959" stroke-width="0.3" text-anchor="middle">1%</text><text x="510" y="697" font-size="10.8" font-weight="bold" fill="#595959" stroke="#595959" stroke-width="0.3" text-anchor="middle">钻石</text><text x="510" y="712.5" font-size="10.8" font-weight="bold" fill="#595959" stroke="#595959" stroke-width="0.3" text-anchor="middle">1%</text><polyline points="485.7,677.6 492.4,695.9 496.6,695.9" fill="none" stroke="#a6a6a6" stroke-width="0.7"/><text x="151.7" y="628.8" font-size="10.8" font-weight="bold" fill="#595959" stroke="#595959" stroke-width="0.3" text-anchor="middle">黄金, 49.6%</text><polygon points="574.7,473.9 584.2,466.1 584.2,742.2 574.7,750.6" fill="#e3e3e3"/><polyline points="649.4,466.1 649.4,742.2 639.8,750.6" fill="none" stroke="#ebebeb" stroke-width="1"/><polyline points="715,466.1 715,742.2 705.4,750.6" fill="none" stroke="#ebebeb" stroke-width="1"/><polyline points="780.6,466.1 780.6,742.2 771,750.6" fill="none" stroke="#ebebeb" stroke-width="1"/><polyline points="846.2,466.1 846.2,742.2 836.6,750.6" fill="none" stroke="#ebebeb" stroke-width="1"/><polyline points="911.8,466.1 911.8,742.2 902.2,750.6" fill="none" stroke="#ebebeb" stroke-width="1"/><polyline points="977.4,466.1 977.4,742.2 967.8,750.6" fill="none" stroke="#ebebeb" stroke-width="1"/><polyline points="1043,466.1 1043,742.2 1033.4,750.6" fill="none" stroke="#ebebeb" stroke-width="1"/><text x="574.9" y="767.3" font-size="10" fill="#8c8c8c" text-anchor="middle" font-family="Liberation Sans">-600</text><text x="640.5" y="767.3" font-size="10" fill="#8c8c8c" text-anchor="middle" font-family="Liberation Sans">-400</text><text x="706.1" y="767.3" font-size="10" fill="#8c8c8c" text-anchor="middle" font-family="Liberation Sans">-200</text><text x="771.7" y="767.3" font-size="10" fill="#8c8c8c" text-anchor="middle" font-family="Liberation Sans">0</text><text x="837.3" y="767.3" font-size="10" fill="#8c8c8c" text-anchor="middle" font-family="Liberation Sans">200</text><text x="902.9" y="767.3" font-size="10" fill="#8c8c8c" text-anchor="middle" font-family="Liberation Sans">400</text><text x="968.5" y="767.3" font-size="10" fill="#8c8c8c" text-anchor="middle" font-family="Liberation Sans">600</text><text x="1034.1" y="767.3" font-size="10" fill="#8c8c8c" text-anchor="middle" font-family="Liberation Sans">800</text><polygon points="767.42,479.55 771.17,476.55 778.25,476.55 774.5,479.55" fill="#d6e2f6" stroke="#3b63b4" stroke-width="1.1" stroke-linejoin="round"/><polygon points="774.5,479.55 778.25,476.55 778.25,488.25 774.5,491.25" fill="#e6edf9" stroke="#3b63b4" stroke-width="1.1" stroke-linejoin="round"/><rect x="767.42" y="479.55" width="7.08" height="11.7" fill="url(#c4b)" fill-opacity="0.82" stroke="#3b63b4" stroke-width="1.2"/><polyline points="771.17,477.55 771.17,488.25 774.5,488.25" fill="none" stroke="#3b63b4" stroke-width="0.8" stroke-opacity="0.55"/><polygon points="766.82,507.22 770.57,504.22 778.25,504.22 774.5,507.22" fill="#d6e2f6" stroke="#3b63b4" stroke-width="1.1" stroke-linejoin="round"/><polygon points="774.5,507.22 778.25,504.22 778.25,515.92 774.5,518.92" fill="#e6edf9" stroke="#3b63b4" stroke-width="1.1" stroke-linejoin="round"/><rect x="766.82" y="507.22" width="7.68" height="11.7" fill="url(#c4b)" fill-opacity="0.82" stroke="#3b63b4" stroke-width="1.2"/><polyline points="770.57,505.22 770.57,515.92 774.5,515.92" fill="none" stroke="#3b63b4" stroke-width="0.8" stroke-opacity="0.55"/><polygon points="755.64,534.89 759.39,531.89 778.25,531.89 774.5,534.89" fill="#d6e2f6" stroke="#3b63b4" stroke-width="1.1" stroke-linejoin="round"/><polygon points="774.5,534.89 778.25,531.89 778.25,543.59 774.5,546.59" fill="#e6edf9" stroke="#3b63b4" stroke-width="1.1" stroke-linejoin="round"/><rect x="755.64" y="534.89" width="18.86" height="11.7" fill="url(#c4b)" fill-opacity="0.82" stroke="#3b63b4" stroke-width="1.2"/><polyline points="759.39,532.89 759.39,543.59 774.5,543.59" fill="none" stroke="#3b63b4" stroke-width="0.8" stroke-opacity="0.55"/><polygon points="709.62,562.56 713.37,559.56 778.25,559.56 774.5,562.56" fill="#d6e2f6" stroke="#3b63b4" stroke-width="1.1" stroke-linejoin="round"/><polygon points="774.5,562.56 778.25,559.56 778.25,571.26 774.5,574.26" fill="#e6edf9" stroke="#3b63b4" stroke-width="1.1" stroke-linejoin="round"/><rect x="709.62" y="562.56" width="64.88" height="11.7" fill="url(#c4b)" fill-opacity="0.82" stroke="#3b63b4" stroke-width="1.2"/><polyline points="713.37,560.56 713.37,571.26 774.5,571.26" fill="none" stroke="#3b63b4" stroke-width="0.8" stroke-opacity="0.55"/><polygon points="772.96,590.23 776.71,587.23 778.25,587.23 774.5,590.23" fill="#d6e2f6" stroke="#3b63b4" stroke-width="1.1" stroke-linejoin="round"/><polygon points="774.5,590.23 778.25,587.23 778.25,598.93 774.5,601.93" fill="#e6edf9" stroke="#3b63b4" stroke-width="1.1" stroke-linejoin="round"/><rect x="772.96" y="590.23" width="1.54" height="11.7" fill="url(#c4b)" fill-opacity="0.82" stroke="#3b63b4" stroke-width="1.2"/><polyline points="776.71,588.23 776.71,598.93 774.5,598.93" fill="none" stroke="#3b63b4" stroke-width="0.8" stroke-opacity="0.55"/><polygon points="774.5,617.9 778.25,614.9 788.42,614.9 784.67,617.9" fill="#d6e2f6" stroke="#3b63b4" stroke-width="1.1" stroke-linejoin="round"/><polygon points="784.67,617.9 788.42,614.9 788.42,626.6 784.67,629.6" fill="#e6edf9" stroke="#3b63b4" stroke-width="1.1" stroke-linejoin="round"/><rect x="774.5" y="617.9" width="10.17" height="11.7" fill="url(#c4b)" fill-opacity="0.82" stroke="#3b63b4" stroke-width="1.2"/><polyline points="778.25,615.9 778.25,626.6 784.67,626.6" fill="none" stroke="#3b63b4" stroke-width="0.8" stroke-opacity="0.55"/><polygon points="774.5,645.57 778.25,642.57 792.88,642.57 789.13,645.57" fill="#d6e2f6" stroke="#3b63b4" stroke-width="1.1" stroke-linejoin="round"/><polygon points="789.13,645.57 792.88,642.57 792.88,654.27 789.13,657.27" fill="#e6edf9" stroke="#3b63b4" stroke-width="1.1" stroke-linejoin="round"/><rect x="774.5" y="645.57" width="14.63" height="11.7" fill="url(#c4b)" fill-opacity="0.82" stroke="#3b63b4" stroke-width="1.2"/><polyline points="778.25,643.57 778.25,654.27 789.13,654.27" fill="none" stroke="#3b63b4" stroke-width="0.8" stroke-opacity="0.55"/><polygon points="605.22,673.24 608.97,670.24 778.25,670.24 774.5,673.24" fill="#d6e2f6" stroke="#3b63b4" stroke-width="1.1" stroke-linejoin="round"/><polygon points="774.5,673.24 778.25,670.24 778.25,681.94 774.5,684.94" fill="#e6edf9" stroke="#3b63b4" stroke-width="1.1" stroke-linejoin="round"/><rect x="605.22" y="673.24" width="169.28" height="11.7" fill="url(#c4b)" fill-opacity="0.82" stroke="#3b63b4" stroke-width="1.2"/><polyline points="608.97,671.24 608.97,681.94 774.5,681.94" fill="none" stroke="#3b63b4" stroke-width="0.8" stroke-opacity="0.55"/><polygon points="774.5,700.91 778.25,697.91 799.67,697.91 795.92,700.91" fill="#d6e2f6" stroke="#3b63b4" stroke-width="1.1" stroke-linejoin="round"/><polygon points="795.92,700.91 799.67,697.91 799.67,709.61 795.92,712.61" fill="#e6edf9" stroke="#3b63b4" stroke-width="1.1" stroke-linejoin="round"/><rect x="774.5" y="700.91" width="21.42" height="11.7" fill="url(#c4b)" fill-opacity="0.82" stroke="#3b63b4" stroke-width="1.2"/><polyline points="778.25,698.91 778.25,709.61 795.92,709.61" fill="none" stroke="#3b63b4" stroke-width="0.8" stroke-opacity="0.55"/><polygon points="774.5,728.58 778.25,725.58 975.74,725.58 971.99,728.58" fill="#f3f3ef" stroke="#4668b0" stroke-width="1.1" stroke-linejoin="round"/><polygon points="971.99,728.58 975.74,725.58 975.74,737.28 971.99,740.28" fill="#f4f4f4" stroke="#4668b0" stroke-width="1.1" stroke-linejoin="round"/><rect x="774.5" y="728.58" width="197.49" height="11.7" fill="url(#c4g)" fill-opacity="1" stroke="#4668b0" stroke-width="1.2"/><polyline points="778.25,726.58 778.25,737.28 971.99,737.28" fill="none" stroke="#4668b0" stroke-width="0.8" stroke-opacity="0.55"/><text x="758.3" y="492.1" font-size="13.8" font-weight="bold" fill="#404040" text-anchor="end">其他</text><text x="758.3" y="519.97" font-size="13.8" font-weight="bold" fill="#404040" text-anchor="end" textLength="27.6" lengthAdjust="spacingAndGlyphs">PGM</text><text x="758.3" y="547.44" font-size="13.8" font-weight="bold" fill="#404040" text-anchor="end">钻石</text><text x="758.3" y="575.81" font-size="13.8" font-weight="bold" fill="#404040" text-anchor="end">镍</text><text x="758.3" y="603.48" font-size="13.8" font-weight="bold" fill="#404040" text-anchor="end">铅锌</text><text x="758.3" y="631.15" font-size="13.8" font-weight="bold" fill="#404040" text-anchor="end">铀</text><text x="758.3" y="658.82" font-size="13.8" font-weight="bold" fill="#404040" text-anchor="end">白银</text><text x="758.3" y="686.29" font-size="13.8" font-weight="bold" fill="#404040" text-anchor="end">锂</text><text x="758.3" y="713.46" font-size="13.8" font-weight="bold" fill="#404040" text-anchor="end">铜</text><text x="758.3" y="741.83" font-size="13.8" font-weight="bold" fill="#404040" text-anchor="end">黄金</text><line x1="767" y1="485.6" x2="779.6" y2="485.6" stroke="#a6a6a6" stroke-width="1"/><text x="796.5" y="490.25" font-size="11" font-weight="bold" fill="#7f7f7f" stroke="#7f7f7f" stroke-width="0.3" text-anchor="middle" font-family="Liberation Sans">-21.6</text><line x1="767" y1="513.2" x2="782.5" y2="513.2" stroke="#a6a6a6" stroke-width="1"/><text x="799" y="517.3" font-size="11" font-weight="bold" fill="#7f7f7f" stroke="#7f7f7f" stroke-width="0.3" text-anchor="middle" font-family="Liberation Sans">-23.4</text><line x1="756.7" y1="540.8" x2="775" y2="540.8" stroke="#a6a6a6" stroke-width="1"/><text x="796.8" y="545.25" font-size="11" font-weight="bold" fill="#7f7f7f" stroke="#7f7f7f" stroke-width="0.3" text-anchor="middle" font-family="Liberation Sans">-57.5</text><text x="686.6" y="572.7" font-size="11" font-weight="bold" fill="#7f7f7f" stroke="#7f7f7f" stroke-width="0.3" text-anchor="middle" font-family="Liberation Sans">-197.8</text><line x1="772" y1="594.3" x2="785.5" y2="594.3" stroke="#a6a6a6" stroke-width="1"/><text x="797" y="598.6" font-size="11" font-weight="bold" fill="#7f7f7f" stroke="#7f7f7f" stroke-width="0.3" text-anchor="middle" font-family="Liberation Sans">-4.7</text><text x="797.5" y="628.1" font-size="11" font-weight="bold" fill="#7f7f7f" stroke="#7f7f7f" stroke-width="0.3" text-anchor="middle" font-family="Liberation Sans">31</text><text x="806.7" y="656.1" font-size="11" font-weight="bold" fill="#7f7f7f" stroke="#7f7f7f" stroke-width="0.3" text-anchor="middle" font-family="Liberation Sans">44.6</text><text x="582.4" y="682.8" font-size="11" font-weight="bold" fill="#7f7f7f" stroke="#7f7f7f" stroke-width="0.3" text-anchor="middle" font-family="Liberation Sans">-516.1</text><text x="813.3" y="711" font-size="11" font-weight="bold" fill="#7f7f7f" stroke="#7f7f7f" stroke-width="0.3" text-anchor="middle" font-family="Liberation Sans">65.3</text><text x="992.6" y="739" font-size="11" font-weight="bold" fill="#7f7f7f" stroke="#7f7f7f" stroke-width="0.3" text-anchor="middle" font-family="Liberation Sans">602.1</text><text transform="translate(24,870.6) scale(0.74,1)" font-size="7.9" fill="#727272" text-anchor="end" font-family="Liberation Sans">15.00</text><text transform="translate(24,927.2) scale(0.74,1)" font-size="7.9" fill="#727272" text-anchor="end" font-family="Liberation Sans">10.00</text><text transform="translate(24,983.8) scale(0.74,1)" font-size="7.9" fill="#727272" text-anchor="end" font-family="Liberation Sans">5.00</text><text transform="translate(24,1040.4) scale(0.74,1)" font-size="7.9" fill="#727272" text-anchor="end" font-family="Liberation Sans">0.00</text><text transform="translate(24,1097) scale(0.74,1)" font-size="7.9" fill="#727272" text-anchor="end" font-family="Liberation Sans">-5.00</text><text transform="translate(24,1153.6) scale(0.74,1)" font-size="7.9" fill="#727272" text-anchor="end" font-family="Liberation Sans">-10.00</text><line x1="29" y1="1037.5" x2="521.6" y2="1037.5" stroke="#d6d6d6" stroke-width="0.9"/><rect x="37.05" y="903.13" width="0.9" height="134.37" fill="url(#c5d)"/><rect x="53.57" y="932.45" width="0.9" height="105.05" fill="url(#c5d)"/><rect x="70.09" y="943.2" width="0.9" height="94.3" fill="url(#c5d)"/><rect x="86.61" y="1035.92" width="0.9" height="1.58" fill="url(#c5d)"/><rect x="103.13" y="1009.65" width="0.9" height="27.85" fill="url(#c5d)"/><rect x="119.65" y="937.66" width="0.9" height="99.84" fill="url(#c5d)"/><rect x="136.17" y="1008.29" width="0.9" height="29.21" fill="url(#c5d)"/><rect x="152.69" y="966.52" width="0.9" height="70.98" fill="url(#c5d)"/><rect x="169.21" y="1037.5" width="0.9" height="0.68" fill="url(#c5d)"/><rect x="185.73" y="944.45" width="0.9" height="93.05" fill="url(#c5d)"/><rect x="202.25" y="937.66" width="0.9" height="99.84" fill="url(#c5d)"/><rect x="218.77" y="944.45" width="0.9" height="93.05" fill="url(#c5d)"/><rect x="235.29" y="1025.16" width="0.9" height="12.34" fill="url(#c5d)"/><rect x="251.81" y="999.35" width="0.9" height="38.15" fill="url(#c5d)"/><rect x="268.33" y="1037.5" width="0.9" height="79.24" fill="url(#c5d)"/><rect x="284.85" y="899.62" width="0.9" height="137.88" fill="url(#c5d)"/><rect x="301.37" y="941.85" width="0.9" height="95.65" fill="url(#c5d)"/><rect x="317.89" y="1037.5" width="0.9" height="20.6" fill="url(#c5d)"/><rect x="334.41" y="946.94" width="0.9" height="90.56" fill="url(#c5d)"/><rect x="350.93" y="1027.2" width="0.9" height="10.3" fill="url(#c5d)"/><rect x="367.45" y="1010.67" width="0.9" height="26.83" fill="url(#c5d)"/><rect x="383.97" y="1037.5" width="0.9" height="24.68" fill="url(#c5d)"/><rect x="400.49" y="913.32" width="0.9" height="124.18" fill="url(#c5d)"/><rect x="417.01" y="977.39" width="0.9" height="60.11" fill="url(#c5d)"/><rect x="433.53" y="980.22" width="0.9" height="57.28" fill="url(#c5d)"/><rect x="450.05" y="1037.5" width="0.9" height="46.86" fill="url(#c5d)"/><rect x="466.57" y="961.32" width="0.9" height="76.18" fill="url(#c5d)"/><rect x="483.09" y="1014.41" width="0.9" height="23.09" fill="url(#c5d)"/><rect x="499.61" y="964.83" width="0.9" height="72.67" fill="url(#c5d)"/><rect x="516.13" y="1011.69" width="0.9" height="25.81" fill="url(#c5d)"/><path d="M37.5,903.13 C37.5,903.13 43.6,919.82 54.02,932.45 C60.12,939.85 67.68,934.25 70.54,943.2 C84.2,985.98 74.63,1010.92 87.06,1035.92 C91.15,1044.15 98.69,1024.18 103.58,1009.65 C115.21,975.06 111.77,938 120.1,937.66 C128.29,937.32 126.42,999.38 136.62,1008.29 C142.94,1013.81 146.88,960.86 153.14,966.52 C163.4,975.8 162.46,1042.99 169.66,1038.18 C178.98,1031.95 172.27,986.77 186.18,944.45 C188.79,936.51 194.44,937.66 202.7,937.66 C210.96,937.66 216.28,936.65 219.22,944.45 C232.8,980.41 223.7,1005.15 235.74,1025.16 C240.22,1032.6 248.87,989.95 252.26,999.35 C265.39,1035.74 262.96,1134.32 268.78,1116.74 C279.48,1084.45 271.63,972 285.3,899.62 C288.15,884.55 297.22,919.77 301.82,941.85 C313.74,999.01 309.9,1056.8 318.34,1058.1 C326.42,1059.35 325.31,955.88 334.86,946.94 C341.83,940.42 338.53,1002.4 351.38,1027.2 C355.05,1034.27 362.92,1005.4 367.9,1010.67 C379.44,1022.88 380.04,1075.09 384.42,1062.18 C396.56,1026.42 389.48,942.72 400.94,913.32 C406,900.33 404.28,950.7 417.46,977.39 C420.8,984.15 431.71,972.89 433.98,980.22 C448.23,1026.37 442.91,1088.71 450.5,1084.36 C459.43,1079.25 455.61,985.48 467.02,961.32 C472.13,950.5 475.02,1013.5 483.54,1014.41 C491.54,1015.26 491.59,965.52 500.06,964.83 C508.11,964.16 516.58,1011.69 516.58,1011.69" fill="none" stroke="#1d3f6b" stroke-width="2.1" stroke-linejoin="round"/><circle cx="37.5" cy="903.13" r="2.2" fill="#2f7378"/><circle cx="54.02" cy="932.45" r="2.2" fill="#2f7378"/><circle cx="70.54" cy="943.2" r="2.2" fill="#2f7378"/><circle cx="87.06" cy="1035.92" r="2.2" fill="#2f7378"/><circle cx="103.58" cy="1009.65" r="2.2" fill="#2f7378"/><circle cx="120.1" cy="937.66" r="2.2" fill="#2f7378"/><circle cx="136.62" cy="1008.29" r="2.2" fill="#2f7378"/><circle cx="153.14" cy="966.52" r="2.2" fill="#2f7378"/><circle cx="169.66" cy="1038.18" r="2.2" fill="#2f7378"/><circle cx="186.18" cy="944.45" r="2.2" fill="#2f7378"/><circle cx="202.7" cy="937.66" r="2.2" fill="#2f7378"/><circle cx="219.22" cy="944.45" r="2.2" fill="#2f7378"/><circle cx="235.74" cy="1025.16" r="2.2" fill="#2f7378"/><circle cx="252.26" cy="999.35" r="2.2" fill="#2f7378"/><circle cx="268.78" cy="1116.74" r="2.2" fill="#2f7378"/><circle cx="285.3" cy="899.62" r="2.2" fill="#2f7378"/><circle cx="301.82" cy="941.85" r="2.2" fill="#2f7378"/><circle cx="318.34" cy="1058.1" r="2.2" fill="#2f7378"/><circle cx="334.86" cy="946.94" r="2.2" fill="#2f7378"/><circle cx="351.38" cy="1027.2" r="2.2" fill="#2f7378"/><circle cx="367.9" cy="1010.67" r="2.2" fill="#2f7378"/><circle cx="384.42" cy="1062.18" r="2.2" fill="#2f7378"/><circle cx="400.94" cy="913.32" r="2.2" fill="#2f7378"/><circle cx="417.46" cy="977.39" r="2.2" fill="#2f7378"/><circle cx="433.98" cy="980.22" r="2.2" fill="#2f7378"/><circle cx="450.5" cy="1084.36" r="2.2" fill="#2f7378"/><circle cx="467.02" cy="961.32" r="2.2" fill="#2f7378"/><circle cx="483.54" cy="1014.41" r="2.2" fill="#2f7378"/><circle cx="500.06" cy="964.83" r="2.2" fill="#2f7378"/><circle cx="516.58" cy="1011.69" r="2.2" fill="#2f7378"/><text transform="translate(39.1,1046.6) rotate(-45)" font-size="7.4" fill="#666" text-anchor="end" font-family="Liberation Sans">1995</text><text transform="translate(55.62,1046.6) rotate(-45)" font-size="7.4" fill="#666" text-anchor="end" font-family="Liberation Sans">1996</text><text transform="translate(72.14,1046.6) rotate(-45)" font-size="7.4" fill="#666" text-anchor="end" font-family="Liberation Sans">1997</text><text transform="translate(88.66,1046.6) rotate(-45)" font-size="7.4" fill="#666" text-anchor="end" font-family="Liberation Sans">1998</text><text transform="translate(105.18,1046.6) rotate(-45)" font-size="7.4" fill="#666" text-anchor="end" font-family="Liberation Sans">1999</text><text transform="translate(121.7,1046.6) rotate(-45)" font-size="7.4" fill="#666" text-anchor="end" font-family="Liberation Sans">2000</text><text transform="translate(138.22,1046.6) rotate(-45)" font-size="7.4" fill="#666" text-anchor="end" font-family="Liberation Sans">2001</text><text transform="translate(154.74,1046.6) rotate(-45)" font-size="7.4" fill="#666" text-anchor="end" font-family="Liberation Sans">2002</text><text transform="translate(171.26,1046.6) rotate(-45)" font-size="7.4" fill="#666" text-anchor="end" font-family="Liberation Sans">2003</text><text transform="translate(187.78,1046.6) rotate(-45)" font-size="7.4" fill="#666" text-anchor="end" font-family="Liberation Sans">2004</text><text transform="translate(204.3,1046.6) rotate(-45)" font-size="7.4" fill="#666" text-anchor="end" font-family="Liberation Sans">2005</text><text transform="translate(220.82,1046.6) rotate(-45)" font-size="7.4" fill="#666" text-anchor="end" font-family="Liberation Sans">2006</text><text transform="translate(237.34,1046.6) rotate(-45)" font-size="7.4" fill="#666" text-anchor="end" font-family="Liberation Sans">2007</text><text transform="translate(253.86,1046.6) rotate(-45)" font-size="7.4" fill="#666" text-anchor="end" font-family="Liberation Sans">2008</text><text transform="translate(270.38,1046.6) rotate(-45)" font-size="7.4" fill="#666" text-anchor="end" font-family="Liberation Sans">2009</text><text transform="translate(286.9,1046.6) rotate(-45)" font-size="7.4" fill="#666" text-anchor="end" font-family="Liberation Sans">2010</text><text transform="translate(303.42,1046.6) rotate(-45)" font-size="7.4" fill="#666" text-anchor="end" font-family="Liberation Sans">2011</text><text transform="translate(319.94,1046.6) rotate(-45)" font-size="7.4" fill="#666" text-anchor="end" font-family="Liberation Sans">2012</text><text transform="translate(336.46,1046.6) rotate(-45)" font-size="7.4" fill="#666" text-anchor="end" font-family="Liberation Sans">2013</text><text transform="translate(352.98,1046.6) rotate(-45)" font-size="7.4" fill="#666" text-anchor="end" font-family="Liberation Sans">2014</text><text transform="translate(369.5,1046.6) rotate(-45)" font-size="7.4" fill="#666" text-anchor="end" font-family="Liberation Sans">2015</text><text transform="translate(386.02,1046.6) rotate(-45)" font-size="7.4" fill="#666" text-anchor="end" font-family="Liberation Sans">2016</text><text transform="translate(402.54,1046.6) rotate(-45)" font-size="7.4" fill="#666" text-anchor="end" font-family="Liberation Sans">2017</text><text transform="translate(419.06,1046.6) rotate(-45)" font-size="7.4" fill="#666" text-anchor="end" font-family="Liberation Sans">2018</text><text transform="translate(435.58,1046.6) rotate(-45)" font-size="7.4" fill="#666" text-anchor="end" font-family="Liberation Sans">2019</text><text transform="translate(452.1,1046.6) rotate(-45)" font-size="7.4" fill="#666" text-anchor="end" font-family="Liberation Sans">2020</text><text transform="translate(468.62,1046.6) rotate(-45)" font-size="7.4" fill="#666" text-anchor="end" font-family="Liberation Sans">2021</text><text transform="translate(485.14,1046.6) rotate(-45)" font-size="7.4" fill="#666" text-anchor="end" font-family="Liberation Sans">2022</text><text transform="translate(501.66,1046.6) rotate(-45)" font-size="7.4" fill="#666" text-anchor="end" font-family="Liberation Sans">2023</text><text transform="translate(518.18,1046.6) rotate(-45)" font-size="7.4" fill="#666" text-anchor="end" font-family="Liberation Sans">2024</text><line x1="574.9" y1="884.5" x2="574.9" y2="1133.7" stroke="#cfcfcf" stroke-width="0.9"/><line x1="574.9" y1="1072.5" x2="1062.4" y2="1072.5" stroke="#d2d2d2" stroke-width="0.9"/><line x1="572.9" y1="906.65" x2="574.9" y2="906.65" stroke="#cfcfcf" stroke-width="0.8"/><text transform="translate(568.4,909.75) scale(0.86,1)" font-size="8.6" fill="#6e6e6e" text-anchor="end" font-family="Liberation Sans">22.00</text><line x1="572.9" y1="944.48" x2="574.9" y2="944.48" stroke="#cfcfcf" stroke-width="0.8"/><text transform="translate(568.4,947.58) scale(0.86,1)" font-size="8.6" fill="#6e6e6e" text-anchor="end" font-family="Liberation Sans">17.00</text><line x1="572.9" y1="982.31" x2="574.9" y2="982.31" stroke="#cfcfcf" stroke-width="0.8"/><text transform="translate(568.4,985.41) scale(0.86,1)" font-size="8.6" fill="#6e6e6e" text-anchor="end" font-family="Liberation Sans">12.00</text><line x1="572.9" y1="1020.14" x2="574.9" y2="1020.14" stroke="#cfcfcf" stroke-width="0.8"/><text transform="translate(568.4,1023.24) scale(0.86,1)" font-size="8.6" fill="#6e6e6e" text-anchor="end" font-family="Liberation Sans">7.00</text><line x1="572.9" y1="1057.97" x2="574.9" y2="1057.97" stroke="#cfcfcf" stroke-width="0.8"/><text transform="translate(568.4,1061.07) scale(0.86,1)" font-size="8.6" fill="#6e6e6e" text-anchor="end" font-family="Liberation Sans">2.00</text><line x1="572.9" y1="1095.8" x2="574.9" y2="1095.8" stroke="#cfcfcf" stroke-width="0.8"/><text transform="translate(568.4,1098.9) scale(0.86,1)" font-size="8.6" fill="#6e6e6e" text-anchor="end" font-family="Liberation Sans">-3.00</text><line x1="572.9" y1="1133.63" x2="574.9" y2="1133.63" stroke="#cfcfcf" stroke-width="0.8"/><text transform="translate(568.4,1136.73) scale(0.86,1)" font-size="8.6" fill="#6e6e6e" text-anchor="end" font-family="Liberation Sans">-8.00</text><text transform="translate(586.2,1083) rotate(-45)" font-size="7.6" fill="#6e6e6e" text-anchor="end" font-family="Liberation Sans">2000</text><text transform="translate(605.67,1083) rotate(-45)" font-size="7.6" fill="#6e6e6e" text-anchor="end" font-family="Liberation Sans">2001</text><text transform="translate(625.14,1083) rotate(-45)" font-size="7.6" fill="#6e6e6e" text-anchor="end" font-family="Liberation Sans">2002</text><text transform="translate(644.61,1083) rotate(-45)" font-size="7.6" fill="#6e6e6e" text-anchor="end" font-family="Liberation Sans">2003</text><text transform="translate(664.08,1083) rotate(-45)" font-size="7.6" fill="#6e6e6e" text-anchor="end" font-family="Liberation Sans">2004</text><text transform="translate(683.55,1083) rotate(-45)" font-size="7.6" fill="#6e6e6e" text-anchor="end" font-family="Liberation Sans">2005</text><text transform="translate(703.02,1083) rotate(-45)" font-size="7.6" fill="#6e6e6e" text-anchor="end" font-family="Liberation Sans">2006</text><text transform="translate(722.49,1083) rotate(-45)" font-size="7.6" fill="#6e6e6e" text-anchor="end" font-family="Liberation Sans">2007</text><text transform="translate(741.96,1083) rotate(-45)" font-size="7.6" fill="#6e6e6e" text-anchor="end" font-family="Liberation Sans">2008</text><text transform="translate(761.43,1083) rotate(-45)" font-size="7.6" fill="#6e6e6e" text-anchor="end" font-family="Liberation Sans">2009</text><text transform="translate(780.9,1083) rotate(-45)" font-size="7.6" fill="#6e6e6e" text-anchor="end" font-family="Liberation Sans">2010</text><text transform="translate(800.37,1083) rotate(-45)" font-size="7.6" fill="#6e6e6e" text-anchor="end" font-family="Liberation Sans">2011</text><text transform="translate(819.84,1083) rotate(-45)" font-size="7.6" fill="#6e6e6e" text-anchor="end" font-family="Liberation Sans">2012</text><text transform="translate(839.31,1083) rotate(-45)" font-size="7.6" fill="#6e6e6e" text-anchor="end" font-family="Liberation Sans">2013</text><text transform="translate(858.78,1083) rotate(-45)" font-size="7.6" fill="#6e6e6e" text-anchor="end" font-family="Liberation Sans">2014</text><text transform="translate(878.25,1083) rotate(-45)" font-size="7.6" fill="#6e6e6e" text-anchor="end" font-family="Liberation Sans">2015</text><text transform="translate(897.72,1083) rotate(-45)" font-size="7.6" fill="#6e6e6e" text-anchor="end" font-family="Liberation Sans">2016</text><text transform="translate(917.19,1083) rotate(-45)" font-size="7.6" fill="#6e6e6e" text-anchor="end" font-family="Liberation Sans">2017</text><text transform="translate(936.66,1083) rotate(-45)" font-size="7.6" fill="#6e6e6e" text-anchor="end" font-family="Liberation Sans">2018</text><text transform="translate(956.13,1083) rotate(-45)" font-size="7.6" fill="#6e6e6e" text-anchor="end" font-family="Liberation Sans">2019</text><text transform="translate(975.6,1083) rotate(-45)" font-size="7.6" fill="#6e6e6e" text-anchor="end" font-family="Liberation Sans">2020</text><text transform="translate(995.07,1083) rotate(-45)" font-size="7.6" fill="#6e6e6e" text-anchor="end" font-family="Liberation Sans">2021</text><text transform="translate(1014.54,1083) rotate(-45)" font-size="7.6" fill="#6e6e6e" text-anchor="end" font-family="Liberation Sans">2022</text><text transform="translate(1034.01,1083) rotate(-45)" font-size="7.6" fill="#6e6e6e" text-anchor="end" font-family="Liberation Sans">2023</text><text transform="translate(1053.48,1083) rotate(-45)" font-size="7.6" fill="#6e6e6e" text-anchor="end" font-family="Liberation Sans">2024</text><path d="M584,961.88 C584,961.88 593.65,973.04 603.47,973.23 C613.12,973.42 615.87,970.67 622.94,962.64 C635.34,948.54 630.94,933.31 642.41,928.97 C650.41,925.94 650.91,940.32 661.88,947.88 C670.38,953.74 673.13,958.62 681.35,955.83 C692.6,952 693.65,946.9 700.82,934.64 C713.12,913.61 714.77,878.2 720.29,889.25 C734.24,917.17 723.55,954.63 739.76,1012.57 C743.02,1024.23 754.86,1036.18 759.23,1028.46 C774.33,1001.75 766.38,955.81 778.7,943.72 C785.85,936.71 784.82,970.02 798.17,990.25 C804.29,999.53 807.2,1000.61 817.64,1002.74 C826.67,1004.58 828.94,995.02 837.11,998.2 C848.41,1002.59 845.72,1009.56 856.58,1017.87 C865.19,1024.46 868.13,1020.78 876.05,1028.01 C887.6,1038.56 883.58,1047.26 895.52,1053.43 C903.05,1057.32 906.84,1053.46 914.99,1048.13 C926.31,1040.74 924.49,1028.49 934.46,1028.01 C943.96,1027.55 943.86,1045.54 953.93,1046.24 C963.33,1046.9 962.48,1034.8 973.4,1030.73 C981.95,1027.54 983.55,1029.45 992.87,1031.71 C1003.02,1034.18 1004.01,1042.79 1012.34,1040.19 C1023.48,1036.7 1021.93,1019.82 1031.81,1019.53 C1041.4,1019.25 1051.28,1039.05 1051.28,1039.05" fill="none" stroke="#c00000" stroke-width="2.3" stroke-linejoin="round"/><circle cx="584" cy="961.88" r="3.1" fill="#c00000"/><polygon points="1051.63,1039.41 1043.79,1036.64 1048.89,1031.55" fill="#c00000"/><path d="M584,1006.37 C584,1006.37 591.79,1047.79 603.47,1053.58 C611.26,1057.44 615.21,1021.7 622.94,1025.66 C634.68,1031.68 633.83,1076.81 642.41,1073.55 C653.3,1069.43 646.96,1036.65 661.88,1010.91 C666.43,1003.06 671.62,1006.37 681.35,1006.37 C691.09,1006.37 695.79,1003.35 700.82,1010.91 C715.26,1032.59 706.9,1052.23 720.29,1064.85 C726.37,1070.58 735.02,1040.15 739.76,1047.6 C754.49,1070.76 752.3,1137.92 759.23,1126.06 C771.77,1104.59 762.92,1028.3 778.7,980.95 C782.39,969.86 792.33,993.29 798.17,1009.17 C811.8,1046.26 807.7,1086 817.64,1086.87 C827.17,1087.7 825.94,1018.5 837.11,1012.57 C845.41,1008.17 842.6,1050.92 856.58,1066.21 C862.07,1072.22 869.01,1050.94 876.05,1055.17 C888.48,1062.63 890.06,1098.72 895.52,1089.59 C909.53,1066.19 901.69,1009.46 914.99,990.1 C921.16,981.12 920.71,1017.13 934.46,1032.92 C940.18,1039.49 949.78,1027.2 953.93,1034.82 C969.25,1062.95 964.42,1107.34 973.4,1104.42 C983.89,1101.02 979.7,1037.99 992.87,1022.18 C999.17,1014.61 1002.35,1057.06 1012.34,1057.67 C1021.82,1058.24 1021.87,1024.99 1031.81,1024.53 C1041.34,1024.08 1051.28,1055.85 1051.28,1055.85" fill="none" stroke="#0f2a70" stroke-width="2.3" stroke-linejoin="round"/><circle cx="584" cy="1006.37" r="3.1" fill="#0f2a70"/><polygon points="1051.54,1056.27 1044.53,1051.8 1050.64,1048" fill="#0f2a70"/><circle cx="760.5" cy="893.9" r="3.8" fill="#0f2a70"/><line x1="760.5" y1="893.9" x2="771.0" y2="893.9" stroke="#0f2a70" stroke-width="2.5"/><polygon points="776,893.9 769.9,890.5 769.9,897.3" fill="#0f2a70"/><text x="778.3" y="897.4" font-size="9.4" fill="#595959" textLength="113.5" lengthAdjust="spacingAndGlyphs"><tspan font-size="11.2" font-family="Liberation Sans">28</tspan>种主流金属矿产量年均增速</text><circle cx="904.5" cy="893.9" r="3.8" fill="#c00000"/><line x1="904.5" y1="893.9" x2="915.0" y2="893.9" stroke="#c00000" stroke-width="2.5"/><polygon points="920,893.9 913.9,890.5 913.9,897.3" fill="#c00000"/><text x="922.3" y="897.4" font-size="9.4" fill="#595959" textLength="103.4" lengthAdjust="spacingAndGlyphs">中国十种有色金属产量增速</text><line x1="693.9" y1="846.8" x2="771.7" y2="846.8" stroke="#b4c6ee" stroke-width="0.8"/><line x1="693.9" y1="850" x2="771.7" y2="850" stroke="#5f88e0" stroke-width="1"/><path d="M80.4,800.4 Q82,804.6 83.6,803.7 Q85.2,799.4 86.8,800.3 Q88.4,804.6 90,803.7 Q91.6,799.4 93.2,800.3 Q94.8,804.6 96.4,803.7 Q98,799.4 99.6,800.3 Q101.2,804.6 102.8,803.7 Q104.4,799.4 106,800.3 Q107.6,804.6 109.2,803.7 Q110.8,799.4 112.4,800.3 Q114,804.6 115.6,803.7" fill="none" stroke="#ee4a4a" stroke-width="1.25" stroke-linejoin="round"/><path d="M80.4,1200.4 Q82,1204.6 83.6,1203.7 Q85.2,1199.4 86.8,1200.3 Q88.4,1204.6 90,1203.7 Q91.6,1199.4 93.2,1200.3 Q94.8,1204.6 96.4,1203.7 Q98,1199.4 99.6,1200.3 Q101.2,1204.6 102.8,1203.7 Q104.4,1199.4 106,1200.3 Q107.6,1204.6 109.2,1203.7 Q110.8,1199.4 112.4,1200.3 Q114,1204.6 115.6,1203.7" fill="none" stroke="#ee4a4a" stroke-width="1.25" stroke-linejoin="round"/><path d="M621.4,1200.4 Q623,1204.6 624.6,1203.7 Q626.2,1199.4 627.8,1200.3 Q629.4,1204.6 631,1203.7 Q632.6,1199.4 634.2,1200.3 Q635.8,1204.6 637.4,1203.7 Q639,1199.4 640.6,1200.3 Q642.2,1204.6 643.8,1203.7 Q645.4,1199.4 647,1200.3 Q648.6,1204.6 650.2,1203.7 Q651.8,1199.4 653.4,1200.3 Q655,1204.6 656.6,1203.7" fill="none" stroke="#ee4a4a" stroke-width="1.25" stroke-linejoin="round"/></svg>
<div class="t" style="left:6.3px;top:0.5px">图1：全球矿山勘探投入数额年度变化</div><div class="t" style="left:548.3px;top:0.5px">图2：全球矿山单位勘察公司投入（亿美元）</div><div class="t" style="left:6.3px;top:414.2px">图3：全球金属品种勘探支出比例（2025）</div><div class="t" style="left:548.3px;top:414.2px">图4：全球矿业项目勘察预算分品种变化（2025，百万美元）</div><div class="t" style="left:6.3px;top:827.2px"><span style="word-spacing:-1.7px">图5：全球 28 种</span>主流金属矿产供给年均增速（1995-2024,%）</div><div class="t" style="left:548.3px;top:827.2px">图6：按年度计算的矿端及产品端供给增速缺口显现放大<span style="margin-left:-11px">（</span><span style="font-size:13.8px;margin-left:5.4px;vertical-align:2.8px;-webkit-text-stroke:0.25px #1F4A86">%</span><span style="margin-left:4px">）</span></div><div class="s" style="left:8px;top:372.5px"><span class="k">资料来源：</span><span class="l">S&amp;P Global Market Intelligence</span><span class="k">，东兴证券研究所</span></div><div class="s" style="left:549px;top:372.5px"><span class="k">资料来源：</span><span class="l">S&amp;P Global Market Intelligence</span><span class="k">，东兴证券研究所</span></div><div class="s" style="left:8px;top:785px"><span class="k">资料来源：</span><span class="l">iFinD</span><span class="k">，东兴证券研究所</span></div><div class="s" style="left:549px;top:785px"><span class="k">资料来源：</span><span class="l">S&amp;P Global Market Intelligence</span><span class="k">，东兴证券研究所</span></div><div class="s" style="left:8px;top:1185px"><span class="k">资料来源：</span><span class="l">iFinD</span><span class="k">，东兴证券研究所</span></div><div class="s" style="left:549px;top:1185px"><span class="k">资料来源：</span><span class="l">iFinD</span><span class="k">，东兴证券研究所</span></div>
</body></html>
